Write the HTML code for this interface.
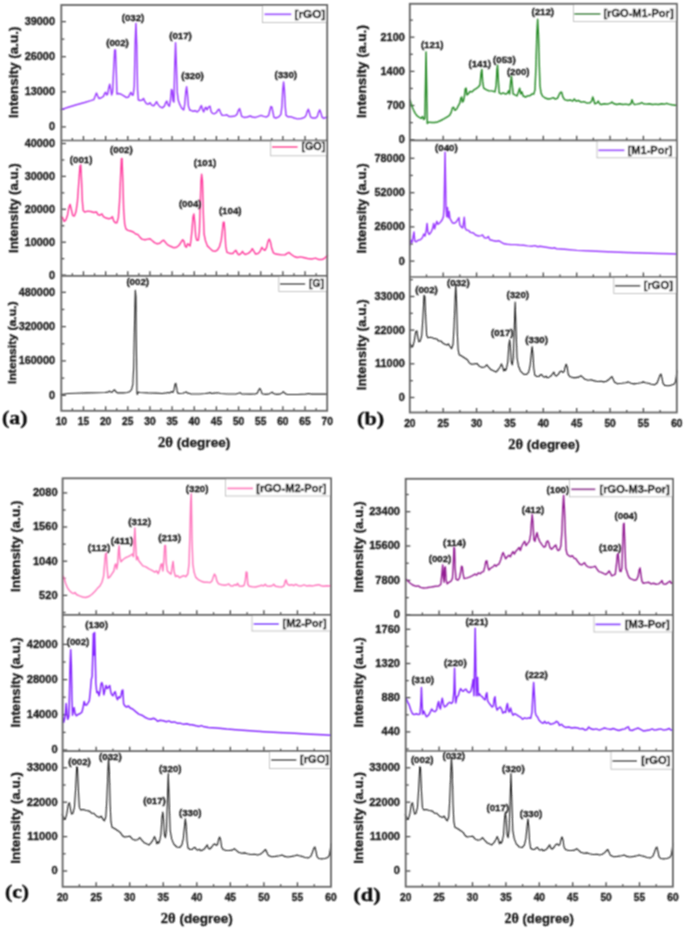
<!DOCTYPE html>
<html><head><meta charset="utf-8"><title>XRD patterns</title>
<style>
html,body{margin:0;padding:0;background:#fff;}
svg{display:block;}

</style></head><body>
<svg width="685" height="929" viewBox="0 0 685 929">
<defs><filter id="soft" x="0" y="0" width="685" height="929" filterUnits="userSpaceOnUse"><feConvolveMatrix order="3" kernelMatrix="1 2 1 2 4 2 1 2 1" edgeMode="duplicate" preserveAlpha="false"/></filter></defs>
<rect x="0" y="0" width="685" height="929" fill="#fff"/>
<g filter="url(#soft)">
<line x1="72.38" y1="140.5" x2="72.38" y2="138" stroke="#3e3e3e" stroke-width="1.25"/>
<line x1="83.46" y1="140.5" x2="83.46" y2="136" stroke="#3e3e3e" stroke-width="1.25"/>
<line x1="94.54" y1="140.5" x2="94.54" y2="138" stroke="#3e3e3e" stroke-width="1.25"/>
<line x1="105.62" y1="140.5" x2="105.62" y2="136" stroke="#3e3e3e" stroke-width="1.25"/>
<line x1="116.7" y1="140.5" x2="116.7" y2="138" stroke="#3e3e3e" stroke-width="1.25"/>
<line x1="127.77" y1="140.5" x2="127.77" y2="136" stroke="#3e3e3e" stroke-width="1.25"/>
<line x1="138.85" y1="140.5" x2="138.85" y2="138" stroke="#3e3e3e" stroke-width="1.25"/>
<line x1="149.93" y1="140.5" x2="149.93" y2="136" stroke="#3e3e3e" stroke-width="1.25"/>
<line x1="161.01" y1="140.5" x2="161.01" y2="138" stroke="#3e3e3e" stroke-width="1.25"/>
<line x1="172.09" y1="140.5" x2="172.09" y2="136" stroke="#3e3e3e" stroke-width="1.25"/>
<line x1="183.17" y1="140.5" x2="183.17" y2="138" stroke="#3e3e3e" stroke-width="1.25"/>
<line x1="194.25" y1="140.5" x2="194.25" y2="136" stroke="#3e3e3e" stroke-width="1.25"/>
<line x1="205.33" y1="140.5" x2="205.33" y2="138" stroke="#3e3e3e" stroke-width="1.25"/>
<line x1="216.41" y1="140.5" x2="216.41" y2="136" stroke="#3e3e3e" stroke-width="1.25"/>
<line x1="227.49" y1="140.5" x2="227.49" y2="138" stroke="#3e3e3e" stroke-width="1.25"/>
<line x1="238.57" y1="140.5" x2="238.57" y2="136" stroke="#3e3e3e" stroke-width="1.25"/>
<line x1="249.65" y1="140.5" x2="249.65" y2="138" stroke="#3e3e3e" stroke-width="1.25"/>
<line x1="260.73" y1="140.5" x2="260.73" y2="136" stroke="#3e3e3e" stroke-width="1.25"/>
<line x1="271.8" y1="140.5" x2="271.8" y2="138" stroke="#3e3e3e" stroke-width="1.25"/>
<line x1="282.88" y1="140.5" x2="282.88" y2="136" stroke="#3e3e3e" stroke-width="1.25"/>
<line x1="293.96" y1="140.5" x2="293.96" y2="138" stroke="#3e3e3e" stroke-width="1.25"/>
<line x1="305.04" y1="140.5" x2="305.04" y2="136" stroke="#3e3e3e" stroke-width="1.25"/>
<line x1="316.12" y1="140.5" x2="316.12" y2="138" stroke="#3e3e3e" stroke-width="1.25"/>
<line x1="61.3" y1="126.9" x2="65.9" y2="126.9" stroke="#3e3e3e" stroke-width="1.25"/>
<text x="55" y="130.3" font-size="10.9" text-anchor="end" fill="#1c1c1c" stroke="#1c1c1c" stroke-width="0.34" font-weight="bold" font-family='"Liberation Sans", Arial, sans-serif' >0</text>
<line x1="61.3" y1="91.8" x2="65.9" y2="91.8" stroke="#3e3e3e" stroke-width="1.25"/>
<text x="55" y="95.2" font-size="10.9" text-anchor="end" fill="#1c1c1c" stroke="#1c1c1c" stroke-width="0.34" font-weight="bold" font-family='"Liberation Sans", Arial, sans-serif' >13000</text>
<line x1="61.3" y1="56.7" x2="65.9" y2="56.7" stroke="#3e3e3e" stroke-width="1.25"/>
<text x="55" y="60.1" font-size="10.9" text-anchor="end" fill="#1c1c1c" stroke="#1c1c1c" stroke-width="0.34" font-weight="bold" font-family='"Liberation Sans", Arial, sans-serif' >26000</text>
<line x1="61.3" y1="21.6" x2="65.9" y2="21.6" stroke="#3e3e3e" stroke-width="1.25"/>
<text x="55" y="25" font-size="10.9" text-anchor="end" fill="#1c1c1c" stroke="#1c1c1c" stroke-width="0.34" font-weight="bold" font-family='"Liberation Sans", Arial, sans-serif' >39000</text>
<line x1="61.3" y1="109.35" x2="64.3" y2="109.35" stroke="#3e3e3e" stroke-width="1.25"/>
<line x1="61.3" y1="74.25" x2="64.3" y2="74.25" stroke="#3e3e3e" stroke-width="1.25"/>
<line x1="61.3" y1="39.15" x2="64.3" y2="39.15" stroke="#3e3e3e" stroke-width="1.25"/>
<polyline points="61.11,109.66 68.26,107.21 76.44,104.76 84.61,102.51 90.74,100.67 93.81,99.65 95.24,95.97 96.47,93.11 97.69,95.97 98.92,98.42 100.96,98.01 103.42,96.38 104.64,93.52 105.66,92.29 106.69,94.95 107.71,93.93 108.73,87.8 109.75,84.12 110.77,89.84 111.59,94.95 112.61,91.88 113.64,69.4 114.66,49.99 115.47,49.99 116.29,71.45 116.91,93.93 118.34,93.52 120.38,93.93 123.45,95.56 126.51,97.61 128.55,96.99 129.99,93.93 131.01,92.29 132.03,94.95 133.26,94.95 134.28,85.75 135.09,44.88 135.91,23.42 136.73,44.88 137.55,89.84 138.36,100.06 140.2,100.47 142.25,100.06 143.47,98.42 144.7,101.08 146.34,103.74 148.38,104.15 150.01,102.72 151.65,105.17 153.69,105.78 155.33,103.74 156.55,101.69 157.78,104.15 159.82,106.6 162.28,107.82 164.32,106.19 165.96,102.1 166.77,101.08 167.8,104.55 169.43,106.19 170.45,100.06 171.47,89.43 172.29,90.86 173.11,101.08 173.93,102.1 174.74,65.31 175.56,42.83 176.38,65.31 177.2,91.88 178.22,100.06 179.65,104.15 181.69,108.23 183.74,109.87 184.76,104.15 185.78,91.88 186.6,86.77 187.42,93.93 188.44,106.19 189.87,110.28 191,110.28 193.04,111.3 195.09,110.69 197.13,111.91 199.18,110.28 200.4,107.21 201.42,105.58 202.45,109.26 203.67,111.91 204.9,108.23 205.92,107.21 206.94,109.87 207.96,108.23 208.99,106.6 210.01,106.19 211.03,111.3 212.46,113.34 214.5,113.75 216.55,112.32 217.98,109.87 219.2,109.26 220.43,112.32 222.07,115.39 224.72,115.39 226.77,114.77 228.81,116.41 231.88,116.41 234.94,116 236.99,114.36 238.42,110.28 239.64,108.64 240.66,112.32 241.69,116.41 244.14,117.43 247.2,117.02 250.27,116 252.31,117.02 255.38,117.43 258.45,116.41 261.1,115.39 263.55,116.41 266.62,117.02 268.66,115.39 269.89,110.28 270.91,106.6 271.93,107.21 272.96,112.32 273.98,117.43 275.82,118.04 278.88,116.82 280.93,114.36 281.95,106.19 282.77,89.84 283.58,82.07 284.4,89.84 285.22,106.19 286.04,115.39 288.08,116.82 291.15,116.82 294.21,118.04 297.28,118.86 301.36,118.45 304.43,117.43 306.07,115.39 307.29,111.3 308.31,109.26 309.34,112.32 310.56,116.82 312.61,118.04 315.67,118.04 317.31,116.41 318.53,112.32 319.76,109.87 320.99,113.34 322.21,117.43 323.85,118.45 325.89,117.43 327.53,117.02" fill="none" stroke="#9a3bff" stroke-width="1.45" stroke-linejoin="round" stroke-linecap="round"/>
<rect x="262.5" y="5" width="64.7" height="17.6" fill="#fff" stroke="#b5b5b5" stroke-width="0.8"/>
<line x1="264.5" y1="14.3" x2="291.3" y2="14.3" stroke="#9a3bff" stroke-width="1.8"/>
<text x="294.6" y="17.7" font-size="11.8" text-anchor="start" fill="#1c1c1c" stroke="#1c1c1c" stroke-width="0.4" font-weight="bold" font-family='"Liberation Sans", Arial, sans-serif' textLength="30.7" lengthAdjust="spacingAndGlyphs" >[rGO]</text>
<text x="117.5" y="45.7" font-size="9.6" text-anchor="middle" fill="#1c1c1c" stroke="#1c1c1c" stroke-width="0.34" font-weight="bold" font-family='"Liberation Sans", Arial, sans-serif' textLength="22.6" lengthAdjust="spacingAndGlyphs" >(002)</text>
<text x="133" y="21.4" font-size="9.6" text-anchor="middle" fill="#1c1c1c" stroke="#1c1c1c" stroke-width="0.34" font-weight="bold" font-family='"Liberation Sans", Arial, sans-serif' textLength="22.6" lengthAdjust="spacingAndGlyphs" >(032)</text>
<text x="180.5" y="38.5" font-size="9.6" text-anchor="middle" fill="#1c1c1c" stroke="#1c1c1c" stroke-width="0.34" font-weight="bold" font-family='"Liberation Sans", Arial, sans-serif' textLength="22.6" lengthAdjust="spacingAndGlyphs" >(017)</text>
<text x="192.5" y="78.7" font-size="9.6" text-anchor="middle" fill="#1c1c1c" stroke="#1c1c1c" stroke-width="0.34" font-weight="bold" font-family='"Liberation Sans", Arial, sans-serif' textLength="22.6" lengthAdjust="spacingAndGlyphs" >(320)</text>
<text x="285.8" y="77.6" font-size="9.6" text-anchor="middle" fill="#1c1c1c" stroke="#1c1c1c" stroke-width="0.34" font-weight="bold" font-family='"Liberation Sans", Arial, sans-serif' textLength="22.6" lengthAdjust="spacingAndGlyphs" >(330)</text>
<text x="18.3" y="72.2" font-size="12.38" text-anchor="middle" fill="#1c1c1c" stroke="#1c1c1c" stroke-width="0.34" font-weight="bold" font-family='"Liberation Sans", Arial, sans-serif' textLength="91.6" lengthAdjust="spacingAndGlyphs" transform="rotate(-90 18.3 72.2)" >Intensity (a.u.)</text>
<line x1="72.38" y1="275.8" x2="72.38" y2="273.3" stroke="#3e3e3e" stroke-width="1.25"/>
<line x1="83.46" y1="275.8" x2="83.46" y2="271.3" stroke="#3e3e3e" stroke-width="1.25"/>
<line x1="94.54" y1="275.8" x2="94.54" y2="273.3" stroke="#3e3e3e" stroke-width="1.25"/>
<line x1="105.62" y1="275.8" x2="105.62" y2="271.3" stroke="#3e3e3e" stroke-width="1.25"/>
<line x1="116.7" y1="275.8" x2="116.7" y2="273.3" stroke="#3e3e3e" stroke-width="1.25"/>
<line x1="127.77" y1="275.8" x2="127.77" y2="271.3" stroke="#3e3e3e" stroke-width="1.25"/>
<line x1="138.85" y1="275.8" x2="138.85" y2="273.3" stroke="#3e3e3e" stroke-width="1.25"/>
<line x1="149.93" y1="275.8" x2="149.93" y2="271.3" stroke="#3e3e3e" stroke-width="1.25"/>
<line x1="161.01" y1="275.8" x2="161.01" y2="273.3" stroke="#3e3e3e" stroke-width="1.25"/>
<line x1="172.09" y1="275.8" x2="172.09" y2="271.3" stroke="#3e3e3e" stroke-width="1.25"/>
<line x1="183.17" y1="275.8" x2="183.17" y2="273.3" stroke="#3e3e3e" stroke-width="1.25"/>
<line x1="194.25" y1="275.8" x2="194.25" y2="271.3" stroke="#3e3e3e" stroke-width="1.25"/>
<line x1="205.33" y1="275.8" x2="205.33" y2="273.3" stroke="#3e3e3e" stroke-width="1.25"/>
<line x1="216.41" y1="275.8" x2="216.41" y2="271.3" stroke="#3e3e3e" stroke-width="1.25"/>
<line x1="227.49" y1="275.8" x2="227.49" y2="273.3" stroke="#3e3e3e" stroke-width="1.25"/>
<line x1="238.57" y1="275.8" x2="238.57" y2="271.3" stroke="#3e3e3e" stroke-width="1.25"/>
<line x1="249.65" y1="275.8" x2="249.65" y2="273.3" stroke="#3e3e3e" stroke-width="1.25"/>
<line x1="260.73" y1="275.8" x2="260.73" y2="271.3" stroke="#3e3e3e" stroke-width="1.25"/>
<line x1="271.8" y1="275.8" x2="271.8" y2="273.3" stroke="#3e3e3e" stroke-width="1.25"/>
<line x1="282.88" y1="275.8" x2="282.88" y2="271.3" stroke="#3e3e3e" stroke-width="1.25"/>
<line x1="293.96" y1="275.8" x2="293.96" y2="273.3" stroke="#3e3e3e" stroke-width="1.25"/>
<line x1="305.04" y1="275.8" x2="305.04" y2="271.3" stroke="#3e3e3e" stroke-width="1.25"/>
<line x1="316.12" y1="275.8" x2="316.12" y2="273.3" stroke="#3e3e3e" stroke-width="1.25"/>
<line x1="61.3" y1="275.1" x2="65.9" y2="275.1" stroke="#3e3e3e" stroke-width="1.25"/>
<text x="55" y="278.5" font-size="10.9" text-anchor="end" fill="#1c1c1c" stroke="#1c1c1c" stroke-width="0.34" font-weight="bold" font-family='"Liberation Sans", Arial, sans-serif' >0</text>
<line x1="61.3" y1="242.2" x2="65.9" y2="242.2" stroke="#3e3e3e" stroke-width="1.25"/>
<text x="55" y="245.6" font-size="10.9" text-anchor="end" fill="#1c1c1c" stroke="#1c1c1c" stroke-width="0.34" font-weight="bold" font-family='"Liberation Sans", Arial, sans-serif' >10000</text>
<line x1="61.3" y1="209.3" x2="65.9" y2="209.3" stroke="#3e3e3e" stroke-width="1.25"/>
<text x="55" y="212.7" font-size="10.9" text-anchor="end" fill="#1c1c1c" stroke="#1c1c1c" stroke-width="0.34" font-weight="bold" font-family='"Liberation Sans", Arial, sans-serif' >20000</text>
<line x1="61.3" y1="176.4" x2="65.9" y2="176.4" stroke="#3e3e3e" stroke-width="1.25"/>
<text x="55" y="179.8" font-size="10.9" text-anchor="end" fill="#1c1c1c" stroke="#1c1c1c" stroke-width="0.34" font-weight="bold" font-family='"Liberation Sans", Arial, sans-serif' >30000</text>
<line x1="61.3" y1="143.5" x2="65.9" y2="143.5" stroke="#3e3e3e" stroke-width="1.25"/>
<text x="55" y="146.9" font-size="10.9" text-anchor="end" fill="#1c1c1c" stroke="#1c1c1c" stroke-width="0.34" font-weight="bold" font-family='"Liberation Sans", Arial, sans-serif' >40000</text>
<line x1="61.3" y1="258.65" x2="64.3" y2="258.65" stroke="#3e3e3e" stroke-width="1.25"/>
<line x1="61.3" y1="225.75" x2="64.3" y2="225.75" stroke="#3e3e3e" stroke-width="1.25"/>
<line x1="61.3" y1="192.85" x2="64.3" y2="192.85" stroke="#3e3e3e" stroke-width="1.25"/>
<line x1="61.3" y1="159.95" x2="64.3" y2="159.95" stroke="#3e3e3e" stroke-width="1.25"/>
<polyline points="61.11,216.64 62.54,217.66 64.18,221.34 65.81,220.12 67.45,215.62 68.88,207.45 70.1,204.38 71.33,209.49 72.76,215.62 74.39,216.03 76.03,211.53 77.46,201.31 78.89,180.88 79.91,166.57 80.73,164.93 81.55,180.88 82.36,201.31 83.18,210.51 84.61,211.94 87.68,211.12 90.74,211.53 93.81,212.55 96.47,211.94 97.9,214.6 99.94,215.21 101.99,213.99 103.42,216.64 106.07,218.07 108.73,218.69 110.77,218.28 112.41,216.64 113.64,220.73 115.27,222.77 116.91,222.77 118.34,217.66 119.56,201.31 120.58,176.79 121.4,158.8 122.01,158.39 122.83,180.88 123.65,209.49 124.67,223.8 125.9,228.91 127.94,230.34 130.6,230.95 133.26,231.97 135.71,234.01 137.75,234.42 139.8,237.08 141.84,239.12 144.91,239.74 147.97,239.12 150.01,238.72 152.06,240.55 154.51,242.6 157.17,243.82 159.82,243.21 161.87,241.17 163.71,240.15 165.34,242.19 167.39,244.64 170.45,246.28 173.52,247.71 176.58,247.3 179.04,245.26 181.08,242.19 182.72,239.74 183.94,241.17 185.17,246.28 186.39,247.3 187.62,243.82 188.85,244.64 190.07,245.87 191,240.15 192.02,229.93 193.04,216.64 193.86,213.99 194.68,221.75 195.7,236.06 196.72,240.15 198.36,240.15 199.38,231.97 200.2,205.4 201.01,180.88 201.63,174.34 202.45,180.88 203.26,211.53 204.08,234.01 205.31,240.15 207.35,245.87 209.8,248.32 212.46,250.77 215.12,251.39 217.57,249.96 219.61,246.28 221.25,240.15 222.47,229.93 223.29,222.16 224.11,222.16 224.93,231.97 225.74,246.28 226.97,252.41 229.83,253.43 232.9,253.43 234.53,251.39 235.96,250.36 237.39,253.43 239.03,254.86 241.07,253.43 242.5,251.39 243.73,253.43 245.16,254.45 248.23,253.43 250.68,251.39 252.31,248.73 253.95,251.39 255.58,254.04 258.04,253.43 260.08,251.39 261.92,247.3 263.35,249.34 264.99,250.36 266.62,247.3 268.05,241.17 269.28,239.12 270.5,242.19 271.73,248.32 273.36,252.82 275.82,254.04 278.88,254.45 281.95,254.86 285.01,254.86 287.06,253.43 289.1,252.41 291.15,254.45 294.21,256.5 297.28,257.52 300.34,256.91 303.41,257.52 307.5,258.54 311.58,258.95 315.67,258.13 318.74,259.56 321.8,259.56 324.26,258.54 325.89,256.91 327.53,255.47" fill="none" stroke="#ff3d9e" stroke-width="1.45" stroke-linejoin="round" stroke-linecap="round"/>
<rect x="270.7" y="140.5" width="56.5" height="15.3" fill="#fff" stroke="#b5b5b5" stroke-width="0.8"/>
<line x1="272" y1="147" x2="297.6" y2="147" stroke="#ff3d9e" stroke-width="1.8"/>
<text x="301.4" y="150.4" font-size="11.8" text-anchor="start" fill="#1c1c1c" stroke="#1c1c1c" stroke-width="0.4" font-weight="bold" font-family='"Liberation Sans", Arial, sans-serif' textLength="23.9" lengthAdjust="spacingAndGlyphs" >[GO]</text>
<text x="81.1" y="163.1" font-size="9.6" text-anchor="middle" fill="#1c1c1c" stroke="#1c1c1c" stroke-width="0.34" font-weight="bold" font-family='"Liberation Sans", Arial, sans-serif' textLength="22.6" lengthAdjust="spacingAndGlyphs" >(001)</text>
<text x="121.4" y="152.9" font-size="9.6" text-anchor="middle" fill="#1c1c1c" stroke="#1c1c1c" stroke-width="0.34" font-weight="bold" font-family='"Liberation Sans", Arial, sans-serif' textLength="22.6" lengthAdjust="spacingAndGlyphs" >(002)</text>
<text x="190.2" y="207.1" font-size="9.6" text-anchor="middle" fill="#1c1c1c" stroke="#1c1c1c" stroke-width="0.34" font-weight="bold" font-family='"Liberation Sans", Arial, sans-serif' textLength="22.6" lengthAdjust="spacingAndGlyphs" >(004)</text>
<text x="205" y="165.6" font-size="9.6" text-anchor="middle" fill="#1c1c1c" stroke="#1c1c1c" stroke-width="0.34" font-weight="bold" font-family='"Liberation Sans", Arial, sans-serif' textLength="22.6" lengthAdjust="spacingAndGlyphs" >(101)</text>
<text x="230.2" y="214.2" font-size="9.6" text-anchor="middle" fill="#1c1c1c" stroke="#1c1c1c" stroke-width="0.34" font-weight="bold" font-family='"Liberation Sans", Arial, sans-serif' textLength="22.6" lengthAdjust="spacingAndGlyphs" >(104)</text>
<text x="18.3" y="208.15" font-size="12.12" text-anchor="middle" fill="#1c1c1c" stroke="#1c1c1c" stroke-width="0.34" font-weight="bold" font-family='"Liberation Sans", Arial, sans-serif' textLength="89.7" lengthAdjust="spacingAndGlyphs" transform="rotate(-90 18.3 208.15)" >Intensity (a.u.)</text>
<line x1="72.38" y1="410.8" x2="72.38" y2="408.3" stroke="#3e3e3e" stroke-width="1.25"/>
<line x1="83.46" y1="410.8" x2="83.46" y2="406.3" stroke="#3e3e3e" stroke-width="1.25"/>
<line x1="94.54" y1="410.8" x2="94.54" y2="408.3" stroke="#3e3e3e" stroke-width="1.25"/>
<line x1="105.62" y1="410.8" x2="105.62" y2="406.3" stroke="#3e3e3e" stroke-width="1.25"/>
<line x1="116.7" y1="410.8" x2="116.7" y2="408.3" stroke="#3e3e3e" stroke-width="1.25"/>
<line x1="127.77" y1="410.8" x2="127.77" y2="406.3" stroke="#3e3e3e" stroke-width="1.25"/>
<line x1="138.85" y1="410.8" x2="138.85" y2="408.3" stroke="#3e3e3e" stroke-width="1.25"/>
<line x1="149.93" y1="410.8" x2="149.93" y2="406.3" stroke="#3e3e3e" stroke-width="1.25"/>
<line x1="161.01" y1="410.8" x2="161.01" y2="408.3" stroke="#3e3e3e" stroke-width="1.25"/>
<line x1="172.09" y1="410.8" x2="172.09" y2="406.3" stroke="#3e3e3e" stroke-width="1.25"/>
<line x1="183.17" y1="410.8" x2="183.17" y2="408.3" stroke="#3e3e3e" stroke-width="1.25"/>
<line x1="194.25" y1="410.8" x2="194.25" y2="406.3" stroke="#3e3e3e" stroke-width="1.25"/>
<line x1="205.33" y1="410.8" x2="205.33" y2="408.3" stroke="#3e3e3e" stroke-width="1.25"/>
<line x1="216.41" y1="410.8" x2="216.41" y2="406.3" stroke="#3e3e3e" stroke-width="1.25"/>
<line x1="227.49" y1="410.8" x2="227.49" y2="408.3" stroke="#3e3e3e" stroke-width="1.25"/>
<line x1="238.57" y1="410.8" x2="238.57" y2="406.3" stroke="#3e3e3e" stroke-width="1.25"/>
<line x1="249.65" y1="410.8" x2="249.65" y2="408.3" stroke="#3e3e3e" stroke-width="1.25"/>
<line x1="260.73" y1="410.8" x2="260.73" y2="406.3" stroke="#3e3e3e" stroke-width="1.25"/>
<line x1="271.8" y1="410.8" x2="271.8" y2="408.3" stroke="#3e3e3e" stroke-width="1.25"/>
<line x1="282.88" y1="410.8" x2="282.88" y2="406.3" stroke="#3e3e3e" stroke-width="1.25"/>
<line x1="293.96" y1="410.8" x2="293.96" y2="408.3" stroke="#3e3e3e" stroke-width="1.25"/>
<line x1="305.04" y1="410.8" x2="305.04" y2="406.3" stroke="#3e3e3e" stroke-width="1.25"/>
<line x1="316.12" y1="410.8" x2="316.12" y2="408.3" stroke="#3e3e3e" stroke-width="1.25"/>
<line x1="61.3" y1="395.3" x2="65.9" y2="395.3" stroke="#3e3e3e" stroke-width="1.25"/>
<text x="55" y="398.7" font-size="10.9" text-anchor="end" fill="#1c1c1c" stroke="#1c1c1c" stroke-width="0.34" font-weight="bold" font-family='"Liberation Sans", Arial, sans-serif' >0</text>
<line x1="61.3" y1="360.9" x2="65.9" y2="360.9" stroke="#3e3e3e" stroke-width="1.25"/>
<text x="55" y="364.3" font-size="10.9" text-anchor="end" fill="#1c1c1c" stroke="#1c1c1c" stroke-width="0.34" font-weight="bold" font-family='"Liberation Sans", Arial, sans-serif' >160000</text>
<line x1="61.3" y1="326.6" x2="65.9" y2="326.6" stroke="#3e3e3e" stroke-width="1.25"/>
<text x="55" y="330" font-size="10.9" text-anchor="end" fill="#1c1c1c" stroke="#1c1c1c" stroke-width="0.34" font-weight="bold" font-family='"Liberation Sans", Arial, sans-serif' >320000</text>
<line x1="61.3" y1="292.3" x2="65.9" y2="292.3" stroke="#3e3e3e" stroke-width="1.25"/>
<text x="55" y="295.7" font-size="10.9" text-anchor="end" fill="#1c1c1c" stroke="#1c1c1c" stroke-width="0.34" font-weight="bold" font-family='"Liberation Sans", Arial, sans-serif' >480000</text>
<line x1="61.3" y1="378.13" x2="64.3" y2="378.13" stroke="#3e3e3e" stroke-width="1.25"/>
<line x1="61.3" y1="343.8" x2="64.3" y2="343.8" stroke="#3e3e3e" stroke-width="1.25"/>
<line x1="61.3" y1="309.47" x2="64.3" y2="309.47" stroke="#3e3e3e" stroke-width="1.25"/>
<polyline points="61.11,394.54 64.18,393.93 68.26,393.52 76.44,393.31 86.66,392.91 96.88,392.7 105.05,392.5 108.12,392.09 109.55,391.07 110.77,392.09 112.2,392.09 113.64,390.45 114.66,389.84 115.68,391.47 117.31,392.91 123.45,392.91 127.53,392.5 129.99,391.47 131.62,389.43 132.85,384.32 133.66,367.97 134.48,327.09 135.3,290.31 135.91,296.44 136.53,357.75 136.93,392.5 137.34,394.54 138.16,392.09 139.8,392.5 147.97,392.91 156.15,393.11 162.28,393.52 166.36,392.91 168.41,392.5 170.04,392.91 171.47,391.47 172.91,392.5 174.13,389.43 174.95,384.32 175.77,383.3 176.58,387.39 177.4,392.5 178.63,393.52 182.72,393.31 184.76,392.5 186.19,391.88 187.62,393.11 189.87,393.52 191,393.93 199.18,393.93 205.31,393.52 208.37,393.11 210.01,392.5 211.44,393.52 214.5,393.11 217.57,392.7 220.64,393.52 227.79,393.93 235.96,393.93 238.42,393.31 240.05,392.7 241.69,393.93 250.27,394.13 255.38,393.93 257.42,392.91 258.65,390.04 259.88,388.41 261.1,390.86 262.12,393.72 264.58,394.34 268.66,394.13 270.71,393.11 272.14,392.09 273.57,393.52 275.82,394.34 279.91,394.13 281.95,392.91 283.38,391.68 284.81,393.31 286.65,394.34 297.28,394.54 305.45,394.13 308.52,393.52 311.58,394.13 319.76,394.13 327.53,394.13" fill="none" stroke="#222" stroke-width="1.1" stroke-linejoin="round" stroke-linecap="round"/>
<rect x="278.8" y="275.8" width="48.4" height="15.7" fill="#fff" stroke="#b5b5b5" stroke-width="0.8"/>
<line x1="280" y1="284" x2="305.2" y2="284" stroke="#505050" stroke-width="1.8"/>
<text x="309" y="287.4" font-size="11.8" text-anchor="start" fill="#1c1c1c" stroke="#1c1c1c" stroke-width="0.4" font-weight="bold" font-family='"Liberation Sans", Arial, sans-serif' textLength="15" lengthAdjust="spacingAndGlyphs" >[G]</text>
<text x="137.7" y="285.2" font-size="9.6" text-anchor="middle" fill="#1c1c1c" stroke="#1c1c1c" stroke-width="0.34" font-weight="bold" font-family='"Liberation Sans", Arial, sans-serif' textLength="22.6" lengthAdjust="spacingAndGlyphs" >(002)</text>
<text x="16.3" y="342.75" font-size="11.15" text-anchor="middle" fill="#1c1c1c" stroke="#1c1c1c" stroke-width="0.34" font-weight="bold" font-family='"Liberation Sans", Arial, sans-serif' textLength="82.5" lengthAdjust="spacingAndGlyphs" transform="rotate(-90 16.3 342.75)" >Intensity (a.u.)</text>
<rect x="61.3" y="5" width="265.9" height="405.8" fill="none" stroke="#646464" stroke-width="1.8"/>
<line x1="61.3" y1="140.5" x2="327.2" y2="140.5" stroke="#646464" stroke-width="1.7"/>
<line x1="61.3" y1="275.8" x2="327.2" y2="275.8" stroke="#646464" stroke-width="1.7"/>
<text x="61.3" y="424.5" font-size="10.2" text-anchor="middle" fill="#1c1c1c" stroke="#1c1c1c" stroke-width="0.34" font-weight="bold" font-family='"Liberation Sans", Arial, sans-serif' >10</text>
<text x="83.46" y="424.5" font-size="10.2" text-anchor="middle" fill="#1c1c1c" stroke="#1c1c1c" stroke-width="0.34" font-weight="bold" font-family='"Liberation Sans", Arial, sans-serif' >15</text>
<text x="105.62" y="424.5" font-size="10.2" text-anchor="middle" fill="#1c1c1c" stroke="#1c1c1c" stroke-width="0.34" font-weight="bold" font-family='"Liberation Sans", Arial, sans-serif' >20</text>
<text x="127.77" y="424.5" font-size="10.2" text-anchor="middle" fill="#1c1c1c" stroke="#1c1c1c" stroke-width="0.34" font-weight="bold" font-family='"Liberation Sans", Arial, sans-serif' >25</text>
<text x="149.93" y="424.5" font-size="10.2" text-anchor="middle" fill="#1c1c1c" stroke="#1c1c1c" stroke-width="0.34" font-weight="bold" font-family='"Liberation Sans", Arial, sans-serif' >30</text>
<text x="172.09" y="424.5" font-size="10.2" text-anchor="middle" fill="#1c1c1c" stroke="#1c1c1c" stroke-width="0.34" font-weight="bold" font-family='"Liberation Sans", Arial, sans-serif' >35</text>
<text x="194.25" y="424.5" font-size="10.2" text-anchor="middle" fill="#1c1c1c" stroke="#1c1c1c" stroke-width="0.34" font-weight="bold" font-family='"Liberation Sans", Arial, sans-serif' >40</text>
<text x="216.41" y="424.5" font-size="10.2" text-anchor="middle" fill="#1c1c1c" stroke="#1c1c1c" stroke-width="0.34" font-weight="bold" font-family='"Liberation Sans", Arial, sans-serif' >45</text>
<text x="238.57" y="424.5" font-size="10.2" text-anchor="middle" fill="#1c1c1c" stroke="#1c1c1c" stroke-width="0.34" font-weight="bold" font-family='"Liberation Sans", Arial, sans-serif' >50</text>
<text x="260.73" y="424.5" font-size="10.2" text-anchor="middle" fill="#1c1c1c" stroke="#1c1c1c" stroke-width="0.34" font-weight="bold" font-family='"Liberation Sans", Arial, sans-serif' >55</text>
<text x="282.88" y="424.5" font-size="10.2" text-anchor="middle" fill="#1c1c1c" stroke="#1c1c1c" stroke-width="0.34" font-weight="bold" font-family='"Liberation Sans", Arial, sans-serif' >60</text>
<text x="305.04" y="424.5" font-size="10.2" text-anchor="middle" fill="#1c1c1c" stroke="#1c1c1c" stroke-width="0.34" font-weight="bold" font-family='"Liberation Sans", Arial, sans-serif' >65</text>
<text x="327.2" y="424.5" font-size="10.2" text-anchor="middle" fill="#1c1c1c" stroke="#1c1c1c" stroke-width="0.34" font-weight="bold" font-family='"Liberation Sans", Arial, sans-serif' >70</text>
<text x="158" y="446.9" font-size="13" text-anchor="start" fill="#1c1c1c" stroke="#1c1c1c" stroke-width="0.34" font-weight="bold" font-family='"Liberation Sans", Arial, sans-serif' textLength="72.3" lengthAdjust="spacingAndGlyphs" ><tspan font-family='"Liberation Serif", "DejaVu Serif", serif' font-size="14">2θ</tspan> (degree)</text>
<text x="2" y="424.4" font-size="18" text-anchor="start" fill="#111" stroke="#111" stroke-width="0.34" font-weight="bold" font-family='"Liberation Serif", "DejaVu Serif", serif' textLength="25.4" lengthAdjust="spacingAndGlyphs" >(a)</text>
<line x1="426.49" y1="140.3" x2="426.49" y2="137.8" stroke="#3e3e3e" stroke-width="1.25"/>
<line x1="443.18" y1="140.3" x2="443.18" y2="135.8" stroke="#3e3e3e" stroke-width="1.25"/>
<line x1="459.86" y1="140.3" x2="459.86" y2="137.8" stroke="#3e3e3e" stroke-width="1.25"/>
<line x1="476.55" y1="140.3" x2="476.55" y2="135.8" stroke="#3e3e3e" stroke-width="1.25"/>
<line x1="493.24" y1="140.3" x2="493.24" y2="137.8" stroke="#3e3e3e" stroke-width="1.25"/>
<line x1="509.93" y1="140.3" x2="509.93" y2="135.8" stroke="#3e3e3e" stroke-width="1.25"/>
<line x1="526.61" y1="140.3" x2="526.61" y2="137.8" stroke="#3e3e3e" stroke-width="1.25"/>
<line x1="543.3" y1="140.3" x2="543.3" y2="135.8" stroke="#3e3e3e" stroke-width="1.25"/>
<line x1="559.99" y1="140.3" x2="559.99" y2="137.8" stroke="#3e3e3e" stroke-width="1.25"/>
<line x1="576.67" y1="140.3" x2="576.67" y2="135.8" stroke="#3e3e3e" stroke-width="1.25"/>
<line x1="593.36" y1="140.3" x2="593.36" y2="137.8" stroke="#3e3e3e" stroke-width="1.25"/>
<line x1="610.05" y1="140.3" x2="610.05" y2="135.8" stroke="#3e3e3e" stroke-width="1.25"/>
<line x1="626.74" y1="140.3" x2="626.74" y2="137.8" stroke="#3e3e3e" stroke-width="1.25"/>
<line x1="643.42" y1="140.3" x2="643.42" y2="135.8" stroke="#3e3e3e" stroke-width="1.25"/>
<line x1="660.11" y1="140.3" x2="660.11" y2="137.8" stroke="#3e3e3e" stroke-width="1.25"/>
<line x1="409.8" y1="139.7" x2="414.4" y2="139.7" stroke="#3e3e3e" stroke-width="1.25"/>
<text x="404.8" y="143.1" font-size="10.9" text-anchor="end" fill="#1c1c1c" stroke="#1c1c1c" stroke-width="0.34" font-weight="bold" font-family='"Liberation Sans", Arial, sans-serif' >0</text>
<line x1="409.8" y1="105.5" x2="414.4" y2="105.5" stroke="#3e3e3e" stroke-width="1.25"/>
<text x="404.8" y="108.9" font-size="10.9" text-anchor="end" fill="#1c1c1c" stroke="#1c1c1c" stroke-width="0.34" font-weight="bold" font-family='"Liberation Sans", Arial, sans-serif' >700</text>
<line x1="409.8" y1="71.4" x2="414.4" y2="71.4" stroke="#3e3e3e" stroke-width="1.25"/>
<text x="404.8" y="74.8" font-size="10.9" text-anchor="end" fill="#1c1c1c" stroke="#1c1c1c" stroke-width="0.34" font-weight="bold" font-family='"Liberation Sans", Arial, sans-serif' >1400</text>
<line x1="409.8" y1="37.2" x2="414.4" y2="37.2" stroke="#3e3e3e" stroke-width="1.25"/>
<text x="404.8" y="40.6" font-size="10.9" text-anchor="end" fill="#1c1c1c" stroke="#1c1c1c" stroke-width="0.34" font-weight="bold" font-family='"Liberation Sans", Arial, sans-serif' >2100</text>
<line x1="409.8" y1="122.62" x2="412.8" y2="122.62" stroke="#3e3e3e" stroke-width="1.25"/>
<line x1="409.8" y1="88.45" x2="412.8" y2="88.45" stroke="#3e3e3e" stroke-width="1.25"/>
<line x1="409.8" y1="54.28" x2="412.8" y2="54.28" stroke="#3e3e3e" stroke-width="1.25"/>
<line x1="409.8" y1="20.12" x2="412.8" y2="20.12" stroke="#3e3e3e" stroke-width="1.25"/>
<polyline points="410.11,100.06 411.54,105.17 413.18,109.26 415.22,113.34 417.26,116 419.31,117.43 421.35,118.45 422.58,116.41 423.8,119.47 424.82,118.45 425.44,85.75 426.05,52.03 426.66,85.75 427.28,123.56 428.5,122.13 431.57,122.54 434.64,122.54 437.7,121.93 440.77,120.5 443.83,118.86 446.9,117.02 449.55,115.39 451.19,112.32 452.42,107.82 453.64,107.21 454.87,110.28 456.5,109.26 458.14,106.19 459.77,103.12 460.8,98.42 461.61,96.99 462.43,102.1 463.45,101.08 464.47,95.97 465.29,88.82 466.11,88.2 466.93,94.95 468.36,93.93 469.99,91.47 472.04,91.88 474.08,89.84 476.53,88.41 478.58,86.77 480.01,84.73 481.03,73.49 481.85,69.4 482.66,81.66 483.69,88.2 485.73,89.43 488.8,90.86 491.86,90.86 494.93,91.88 496.15,85.75 496.97,69.4 497.58,65.31 498.4,81.66 499.22,92.91 501.06,93.93 503.1,92.91 505.15,93.93 507.19,93.52 508.62,90.86 509.64,93.93 510.66,81.66 511.48,76.55 512.3,85.75 513.12,93.93 514.96,94.95 517,95.97 518.43,91.88 519.66,88.2 520.68,93.93 521.91,91.88 523.13,95.97 525.58,96.99 527.63,95.97 530.08,95.56 532.12,93.93 533.76,93.93 534.99,89.84 536.01,65.31 536.82,34.66 537.64,19.33 538.46,34.66 539.28,65.31 540,85.75 541.02,92.91 542.45,95.97 545.11,98.01 548.18,99.04 551.24,98.42 553.28,97.61 555.33,99.04 557.37,98.42 559.01,94.95 560.44,92.29 561.66,92.29 562.89,96.99 564.53,99.65 567.59,100.47 570.66,100.06 572.7,101.08 574.34,99.04 575.97,101.08 578.83,100.47 580.88,102.1 583.94,101.69 587.01,103.12 590.07,102.72 591.71,101.08 592.73,96.99 593.75,100.06 594.77,103.74 596.82,103.12 598.25,101.08 599.68,103.74 601.31,104.55 604.38,103.74 607.45,104.15 610.51,103.12 611.94,102.1 613.58,103.53 616.64,104.55 619.71,103.74 622.77,104.55 625.84,104.15 628.91,104.76 630.95,103.74 631.97,99.65 633.2,103.12 634.42,104.55 637.08,104.15 640.15,103.53 641.78,102.51 643.42,103.74 646.28,104.15 649.34,103.74 652.41,104.55 655.47,104.15 658.54,104.55 661.61,103.74 664.67,104.15 666.72,103.33 668.76,104.15 671.82,104.76 674.89,105.17 676.53,105.17" fill="none" stroke="#258a25" stroke-width="1.45" stroke-linejoin="round" stroke-linecap="round"/>
<rect x="573.4" y="3.8" width="103.4" height="17.7" fill="#fff" stroke="#b5b5b5" stroke-width="0.8"/>
<line x1="574.5" y1="13.9" x2="600.4" y2="13.9" stroke="#258a25" stroke-width="1.8"/>
<text x="603.4" y="17.3" font-size="11.8" text-anchor="start" fill="#1c1c1c" stroke="#1c1c1c" stroke-width="0.4" font-weight="bold" font-family='"Liberation Sans", Arial, sans-serif' textLength="70.2" lengthAdjust="spacingAndGlyphs" >[rGO-M1-Por]</text>
<text x="432.2" y="47.5" font-size="9.6" text-anchor="middle" fill="#1c1c1c" stroke="#1c1c1c" stroke-width="0.34" font-weight="bold" font-family='"Liberation Sans", Arial, sans-serif' textLength="22.6" lengthAdjust="spacingAndGlyphs" >(121)</text>
<text x="479.8" y="67.4" font-size="9.6" text-anchor="middle" fill="#1c1c1c" stroke="#1c1c1c" stroke-width="0.34" font-weight="bold" font-family='"Liberation Sans", Arial, sans-serif' textLength="22.6" lengthAdjust="spacingAndGlyphs" >(141)</text>
<text x="504.4" y="62.9" font-size="9.6" text-anchor="middle" fill="#1c1c1c" stroke="#1c1c1c" stroke-width="0.34" font-weight="bold" font-family='"Liberation Sans", Arial, sans-serif' textLength="22.6" lengthAdjust="spacingAndGlyphs" >(053)</text>
<text x="518.2" y="74.7" font-size="9.6" text-anchor="middle" fill="#1c1c1c" stroke="#1c1c1c" stroke-width="0.34" font-weight="bold" font-family='"Liberation Sans", Arial, sans-serif' textLength="22.6" lengthAdjust="spacingAndGlyphs" >(200)</text>
<text x="542.8" y="14.6" font-size="9.6" text-anchor="middle" fill="#1c1c1c" stroke="#1c1c1c" stroke-width="0.34" font-weight="bold" font-family='"Liberation Sans", Arial, sans-serif' textLength="22.6" lengthAdjust="spacingAndGlyphs" >(212)</text>
<text x="366.1" y="71.5" font-size="12.57" text-anchor="middle" fill="#1c1c1c" stroke="#1c1c1c" stroke-width="0.34" font-weight="bold" font-family='"Liberation Sans", Arial, sans-serif' textLength="93" lengthAdjust="spacingAndGlyphs" transform="rotate(-90 366.1 71.5)" >Intensity (a.u.)</text>
<line x1="426.49" y1="277" x2="426.49" y2="274.5" stroke="#3e3e3e" stroke-width="1.25"/>
<line x1="443.18" y1="277" x2="443.18" y2="272.5" stroke="#3e3e3e" stroke-width="1.25"/>
<line x1="459.86" y1="277" x2="459.86" y2="274.5" stroke="#3e3e3e" stroke-width="1.25"/>
<line x1="476.55" y1="277" x2="476.55" y2="272.5" stroke="#3e3e3e" stroke-width="1.25"/>
<line x1="493.24" y1="277" x2="493.24" y2="274.5" stroke="#3e3e3e" stroke-width="1.25"/>
<line x1="509.93" y1="277" x2="509.93" y2="272.5" stroke="#3e3e3e" stroke-width="1.25"/>
<line x1="526.61" y1="277" x2="526.61" y2="274.5" stroke="#3e3e3e" stroke-width="1.25"/>
<line x1="543.3" y1="277" x2="543.3" y2="272.5" stroke="#3e3e3e" stroke-width="1.25"/>
<line x1="559.99" y1="277" x2="559.99" y2="274.5" stroke="#3e3e3e" stroke-width="1.25"/>
<line x1="576.67" y1="277" x2="576.67" y2="272.5" stroke="#3e3e3e" stroke-width="1.25"/>
<line x1="593.36" y1="277" x2="593.36" y2="274.5" stroke="#3e3e3e" stroke-width="1.25"/>
<line x1="610.05" y1="277" x2="610.05" y2="272.5" stroke="#3e3e3e" stroke-width="1.25"/>
<line x1="626.74" y1="277" x2="626.74" y2="274.5" stroke="#3e3e3e" stroke-width="1.25"/>
<line x1="643.42" y1="277" x2="643.42" y2="272.5" stroke="#3e3e3e" stroke-width="1.25"/>
<line x1="660.11" y1="277" x2="660.11" y2="274.5" stroke="#3e3e3e" stroke-width="1.25"/>
<line x1="409.8" y1="261.1" x2="414.4" y2="261.1" stroke="#3e3e3e" stroke-width="1.25"/>
<text x="404.8" y="264.5" font-size="10.9" text-anchor="end" fill="#1c1c1c" stroke="#1c1c1c" stroke-width="0.34" font-weight="bold" font-family='"Liberation Sans", Arial, sans-serif' >0</text>
<line x1="409.8" y1="226.9" x2="414.4" y2="226.9" stroke="#3e3e3e" stroke-width="1.25"/>
<text x="404.8" y="230.3" font-size="10.9" text-anchor="end" fill="#1c1c1c" stroke="#1c1c1c" stroke-width="0.34" font-weight="bold" font-family='"Liberation Sans", Arial, sans-serif' >26000</text>
<line x1="409.8" y1="192.7" x2="414.4" y2="192.7" stroke="#3e3e3e" stroke-width="1.25"/>
<text x="404.8" y="196.1" font-size="10.9" text-anchor="end" fill="#1c1c1c" stroke="#1c1c1c" stroke-width="0.34" font-weight="bold" font-family='"Liberation Sans", Arial, sans-serif' >52000</text>
<line x1="409.8" y1="158.3" x2="414.4" y2="158.3" stroke="#3e3e3e" stroke-width="1.25"/>
<text x="404.8" y="161.7" font-size="10.9" text-anchor="end" fill="#1c1c1c" stroke="#1c1c1c" stroke-width="0.34" font-weight="bold" font-family='"Liberation Sans", Arial, sans-serif' >78000</text>
<line x1="409.8" y1="243.97" x2="412.8" y2="243.97" stroke="#3e3e3e" stroke-width="1.25"/>
<line x1="409.8" y1="209.7" x2="412.8" y2="209.7" stroke="#3e3e3e" stroke-width="1.25"/>
<line x1="409.8" y1="175.43" x2="412.8" y2="175.43" stroke="#3e3e3e" stroke-width="1.25"/>
<polyline points="410.11,244.64 411.13,240.15 412.15,242.19 413.18,236.06 413.99,231.97 414.81,241.17 416.24,241.78 418.28,240.15 420.33,239.74 422.37,237.69 423.8,234.01 425.03,236.06 426.26,229.93 427.07,223.39 427.89,231.97 429.12,234.42 431.16,231.97 432.8,227.88 433.61,223.39 434.64,228.91 435.66,224.82 436.88,221.34 437.91,224.2 439.34,223.39 440.77,221.75 442.2,219.71 443.42,216.64 444.04,207.45 444.55,180.88 445.06,152.26 445.57,180.88 446.08,207.45 446.69,216.64 447.51,207.45 448.33,217.66 449.15,211.53 449.96,218.69 451.19,220.73 452.42,222.77 454.05,223.39 456.09,222.16 457.73,219.71 458.96,217.66 459.77,224.82 461.2,226.86 462.64,227.88 463.66,221.75 464.27,217.26 465.09,227.88 466.31,229.93 468.36,230.34 470.4,232.38 473.47,232.99 475.51,235.04 478.58,236.06 481.03,235.65 482.66,235.04 484.3,237.69 486.75,238.1 488.39,236.47 489.82,239.74 492.88,240.55 495.95,241.17 499.01,240.76 501.06,242.19 504.12,243.82 507.19,244.23 511.28,244.64 515.36,244.64 519.45,245.05 523.54,245.26 527.63,245.87 531.72,246.28 534.78,245.66 537.85,246.69 540,246.28 546.13,247.3 552.26,248.32 554.31,247.71 556.35,248.73 564.53,249.34 576.79,250.36 591.09,250.98 607.45,251.8 625.84,252.41 642.19,253.02 658.54,253.43 670.8,253.84 676.53,254.04" fill="none" stroke="#9a3bff" stroke-width="1.45" stroke-linejoin="round" stroke-linecap="round"/>
<rect x="597" y="140.3" width="79.8" height="17.5" fill="#fff" stroke="#b5b5b5" stroke-width="0.8"/>
<line x1="598.5" y1="150.3" x2="624.4" y2="150.3" stroke="#9a3bff" stroke-width="1.8"/>
<text x="627.7" y="153.7" font-size="11.8" text-anchor="start" fill="#1c1c1c" stroke="#1c1c1c" stroke-width="0.4" font-weight="bold" font-family='"Liberation Sans", Arial, sans-serif' textLength="44.7" lengthAdjust="spacingAndGlyphs" >[M1-Por]</text>
<text x="446.4" y="150.6" font-size="9.6" text-anchor="middle" fill="#1c1c1c" stroke="#1c1c1c" stroke-width="0.34" font-weight="bold" font-family='"Liberation Sans", Arial, sans-serif' textLength="22.6" lengthAdjust="spacingAndGlyphs" >(040)</text>
<text x="366.1" y="208.35" font-size="12.18" text-anchor="middle" fill="#1c1c1c" stroke="#1c1c1c" stroke-width="0.34" font-weight="bold" font-family='"Liberation Sans", Arial, sans-serif' textLength="90.1" lengthAdjust="spacingAndGlyphs" transform="rotate(-90 366.1 208.35)" >Intensity (a.u.)</text>
<line x1="426.49" y1="412.5" x2="426.49" y2="410" stroke="#3e3e3e" stroke-width="1.25"/>
<line x1="443.18" y1="412.5" x2="443.18" y2="408" stroke="#3e3e3e" stroke-width="1.25"/>
<line x1="459.86" y1="412.5" x2="459.86" y2="410" stroke="#3e3e3e" stroke-width="1.25"/>
<line x1="476.55" y1="412.5" x2="476.55" y2="408" stroke="#3e3e3e" stroke-width="1.25"/>
<line x1="493.24" y1="412.5" x2="493.24" y2="410" stroke="#3e3e3e" stroke-width="1.25"/>
<line x1="509.93" y1="412.5" x2="509.93" y2="408" stroke="#3e3e3e" stroke-width="1.25"/>
<line x1="526.61" y1="412.5" x2="526.61" y2="410" stroke="#3e3e3e" stroke-width="1.25"/>
<line x1="543.3" y1="412.5" x2="543.3" y2="408" stroke="#3e3e3e" stroke-width="1.25"/>
<line x1="559.99" y1="412.5" x2="559.99" y2="410" stroke="#3e3e3e" stroke-width="1.25"/>
<line x1="576.67" y1="412.5" x2="576.67" y2="408" stroke="#3e3e3e" stroke-width="1.25"/>
<line x1="593.36" y1="412.5" x2="593.36" y2="410" stroke="#3e3e3e" stroke-width="1.25"/>
<line x1="610.05" y1="412.5" x2="610.05" y2="408" stroke="#3e3e3e" stroke-width="1.25"/>
<line x1="626.74" y1="412.5" x2="626.74" y2="410" stroke="#3e3e3e" stroke-width="1.25"/>
<line x1="643.42" y1="412.5" x2="643.42" y2="408" stroke="#3e3e3e" stroke-width="1.25"/>
<line x1="660.11" y1="412.5" x2="660.11" y2="410" stroke="#3e3e3e" stroke-width="1.25"/>
<line x1="409.8" y1="397.5" x2="414.4" y2="397.5" stroke="#3e3e3e" stroke-width="1.25"/>
<text x="404.8" y="400.9" font-size="10.9" text-anchor="end" fill="#1c1c1c" stroke="#1c1c1c" stroke-width="0.34" font-weight="bold" font-family='"Liberation Sans", Arial, sans-serif' >0</text>
<line x1="409.8" y1="363.8" x2="414.4" y2="363.8" stroke="#3e3e3e" stroke-width="1.25"/>
<text x="404.8" y="367.2" font-size="10.9" text-anchor="end" fill="#1c1c1c" stroke="#1c1c1c" stroke-width="0.34" font-weight="bold" font-family='"Liberation Sans", Arial, sans-serif' >11000</text>
<line x1="409.8" y1="330.1" x2="414.4" y2="330.1" stroke="#3e3e3e" stroke-width="1.25"/>
<text x="404.8" y="333.5" font-size="10.9" text-anchor="end" fill="#1c1c1c" stroke="#1c1c1c" stroke-width="0.34" font-weight="bold" font-family='"Liberation Sans", Arial, sans-serif' >22000</text>
<line x1="409.8" y1="296.5" x2="414.4" y2="296.5" stroke="#3e3e3e" stroke-width="1.25"/>
<text x="404.8" y="299.9" font-size="10.9" text-anchor="end" fill="#1c1c1c" stroke="#1c1c1c" stroke-width="0.34" font-weight="bold" font-family='"Liberation Sans", Arial, sans-serif' >33000</text>
<line x1="409.8" y1="380.67" x2="412.8" y2="380.67" stroke="#3e3e3e" stroke-width="1.25"/>
<line x1="409.8" y1="347" x2="412.8" y2="347" stroke="#3e3e3e" stroke-width="1.25"/>
<line x1="409.8" y1="313.33" x2="412.8" y2="313.33" stroke="#3e3e3e" stroke-width="1.25"/>
<line x1="409.8" y1="279.67" x2="412.8" y2="279.67" stroke="#3e3e3e" stroke-width="1.25"/>
<polyline points="409.5,342.42 411.13,345.49 412.77,346.51 414.2,341.4 415.63,332.2 416.85,330.77 417.88,337.31 418.9,341.81 420.33,340.99 421.76,335.27 422.99,316.88 424.01,295.42 424.82,296.44 425.85,320.96 426.66,335.27 427.89,337.72 430.55,337.31 433.61,338.34 436.68,338.95 438.72,340.99 440.77,340.99 443.83,343.85 446.9,345.08 448.33,343.85 449.96,346.51 451.6,348.55 453.03,344.47 454.05,327.09 455.07,300.53 455.69,284.18 456.5,300.53 457.32,333.23 458.14,349.58 459.16,354.69 461.2,355.71 464.27,357.75 467.34,359.8 469.38,362.86 471.42,364.29 474.49,363.88 476.94,363.47 478.99,365.93 481.64,367.36 484.71,366.95 486.75,364.91 488.39,366.95 490.84,369.61 493.91,371.04 495.95,372.06 497.99,370.01 500.04,366.95 501.47,363.88 502.69,366.95 503.72,371.04 504.74,368.99 505.55,370.42 506.58,367.97 507.8,361.84 508.82,345.49 509.64,339.77 510.46,347.53 511.28,361.84 512.3,364.91 513.32,357.75 514.34,327.09 515.16,302.16 515.98,327.09 517,357.75 518.43,365.93 520.47,371.04 523.54,374.1 526.61,374.51 528.65,372.06 530.08,365.93 531.31,353.66 532.12,346.51 532.94,353.66 533.76,367.97 534.78,375.12 536.82,376.55 538.87,376.55 540,375.12 541.64,374.51 543.07,376.55 544.5,377.17 546.13,376.15 547.15,377.78 549.2,377.17 551.24,375.74 552.67,373.69 553.9,372.06 554.92,375.12 556.35,376.15 558.39,374.1 560.03,371.65 561.46,371.04 562.89,372.47 564.12,371.65 565.14,366.95 566.16,364.29 567.18,366.95 568.2,374.1 569.64,376.55 572.7,377.58 575.77,377.58 578.83,377.17 580.88,375.74 582.51,377.17 584.96,379.21 588.03,380.23 591.09,379.82 593.55,380.64 597.23,381.46 601.31,381.26 603.77,381.87 606.42,381.26 608.47,379.82 610.51,377.78 611.94,376.55 613.17,379.21 614.6,382.28 617.66,383.71 621.75,383.3 625.84,382.69 628.29,381.87 630.95,383.3 634.01,383.91 638.1,383.3 641.17,382.69 643.21,381.87 645.26,382.69 648.32,383.3 651.39,384.32 654.45,384.73 656.91,383.3 658.54,379.21 659.97,375.12 660.99,374.1 662.01,378.19 663.04,383.3 664.67,385.34 667.74,385.75 670.8,385.34 673.87,384.32 675.3,382.28 676.32,376.15 676.93,371.04" fill="none" stroke="#1a1a1a" stroke-width="1.1" stroke-linejoin="round" stroke-linecap="round"/>
<rect x="613.8" y="277" width="63" height="16.4" fill="#fff" stroke="#b5b5b5" stroke-width="0.8"/>
<line x1="615" y1="285.8" x2="640.3" y2="285.8" stroke="#505050" stroke-width="1.8"/>
<text x="643.8" y="289.2" font-size="11.8" text-anchor="start" fill="#1c1c1c" stroke="#1c1c1c" stroke-width="0.4" font-weight="bold" font-family='"Liberation Sans", Arial, sans-serif' textLength="29.1" lengthAdjust="spacingAndGlyphs" >[rGO]</text>
<text x="426.5" y="293" font-size="9.6" text-anchor="middle" fill="#1c1c1c" stroke="#1c1c1c" stroke-width="0.34" font-weight="bold" font-family='"Liberation Sans", Arial, sans-serif' textLength="22.6" lengthAdjust="spacingAndGlyphs" >(002)</text>
<text x="458.4" y="285.9" font-size="9.6" text-anchor="middle" fill="#1c1c1c" stroke="#1c1c1c" stroke-width="0.34" font-weight="bold" font-family='"Liberation Sans", Arial, sans-serif' textLength="22.6" lengthAdjust="spacingAndGlyphs" >(032)</text>
<text x="502.3" y="335.9" font-size="9.6" text-anchor="middle" fill="#1c1c1c" stroke="#1c1c1c" stroke-width="0.34" font-weight="bold" font-family='"Liberation Sans", Arial, sans-serif' textLength="22.6" lengthAdjust="spacingAndGlyphs" >(017)</text>
<text x="517.8" y="298.1" font-size="9.6" text-anchor="middle" fill="#1c1c1c" stroke="#1c1c1c" stroke-width="0.34" font-weight="bold" font-family='"Liberation Sans", Arial, sans-serif' textLength="22.6" lengthAdjust="spacingAndGlyphs" >(320)</text>
<text x="536.6" y="343.3" font-size="9.6" text-anchor="middle" fill="#1c1c1c" stroke="#1c1c1c" stroke-width="0.34" font-weight="bold" font-family='"Liberation Sans", Arial, sans-serif' textLength="22.6" lengthAdjust="spacingAndGlyphs" >(330)</text>
<text x="366.1" y="344.8" font-size="12.3" text-anchor="middle" fill="#1c1c1c" stroke="#1c1c1c" stroke-width="0.34" font-weight="bold" font-family='"Liberation Sans", Arial, sans-serif' textLength="91" lengthAdjust="spacingAndGlyphs" transform="rotate(-90 366.1 344.8)" >Intensity (a.u.)</text>
<rect x="409.8" y="3.8" width="267" height="408.7" fill="none" stroke="#646464" stroke-width="1.8"/>
<line x1="409.8" y1="140.3" x2="676.8" y2="140.3" stroke="#646464" stroke-width="1.7"/>
<line x1="409.8" y1="277" x2="676.8" y2="277" stroke="#646464" stroke-width="1.7"/>
<text x="409.8" y="426.9" font-size="10.2" text-anchor="middle" fill="#1c1c1c" stroke="#1c1c1c" stroke-width="0.34" font-weight="bold" font-family='"Liberation Sans", Arial, sans-serif' >20</text>
<text x="443.18" y="426.9" font-size="10.2" text-anchor="middle" fill="#1c1c1c" stroke="#1c1c1c" stroke-width="0.34" font-weight="bold" font-family='"Liberation Sans", Arial, sans-serif' >25</text>
<text x="476.55" y="426.9" font-size="10.2" text-anchor="middle" fill="#1c1c1c" stroke="#1c1c1c" stroke-width="0.34" font-weight="bold" font-family='"Liberation Sans", Arial, sans-serif' >30</text>
<text x="509.93" y="426.9" font-size="10.2" text-anchor="middle" fill="#1c1c1c" stroke="#1c1c1c" stroke-width="0.34" font-weight="bold" font-family='"Liberation Sans", Arial, sans-serif' >35</text>
<text x="543.3" y="426.9" font-size="10.2" text-anchor="middle" fill="#1c1c1c" stroke="#1c1c1c" stroke-width="0.34" font-weight="bold" font-family='"Liberation Sans", Arial, sans-serif' >40</text>
<text x="576.67" y="426.9" font-size="10.2" text-anchor="middle" fill="#1c1c1c" stroke="#1c1c1c" stroke-width="0.34" font-weight="bold" font-family='"Liberation Sans", Arial, sans-serif' >45</text>
<text x="610.05" y="426.9" font-size="10.2" text-anchor="middle" fill="#1c1c1c" stroke="#1c1c1c" stroke-width="0.34" font-weight="bold" font-family='"Liberation Sans", Arial, sans-serif' >50</text>
<text x="643.42" y="426.9" font-size="10.2" text-anchor="middle" fill="#1c1c1c" stroke="#1c1c1c" stroke-width="0.34" font-weight="bold" font-family='"Liberation Sans", Arial, sans-serif' >55</text>
<text x="676.8" y="426.9" font-size="10.2" text-anchor="middle" fill="#1c1c1c" stroke="#1c1c1c" stroke-width="0.34" font-weight="bold" font-family='"Liberation Sans", Arial, sans-serif' >60</text>
<text x="508.3" y="449.4" font-size="13" text-anchor="start" fill="#1c1c1c" stroke="#1c1c1c" stroke-width="0.34" font-weight="bold" font-family='"Liberation Sans", Arial, sans-serif' textLength="71.4" lengthAdjust="spacingAndGlyphs" ><tspan font-family='"Liberation Serif", "DejaVu Serif", serif' font-size="14">2θ</tspan> (degree)</text>
<text x="357.1" y="425.4" font-size="18" text-anchor="start" fill="#111" stroke="#111" stroke-width="0.34" font-weight="bold" font-family='"Liberation Serif", "DejaVu Serif", serif' textLength="27.1" lengthAdjust="spacingAndGlyphs" >(b)</text>
<line x1="79.38" y1="614.8" x2="79.38" y2="612.3" stroke="#3e3e3e" stroke-width="1.25"/>
<line x1="96.15" y1="614.8" x2="96.15" y2="610.3" stroke="#3e3e3e" stroke-width="1.25"/>
<line x1="112.92" y1="614.8" x2="112.92" y2="612.3" stroke="#3e3e3e" stroke-width="1.25"/>
<line x1="129.7" y1="614.8" x2="129.7" y2="610.3" stroke="#3e3e3e" stroke-width="1.25"/>
<line x1="146.47" y1="614.8" x2="146.47" y2="612.3" stroke="#3e3e3e" stroke-width="1.25"/>
<line x1="163.25" y1="614.8" x2="163.25" y2="610.3" stroke="#3e3e3e" stroke-width="1.25"/>
<line x1="180.02" y1="614.8" x2="180.02" y2="612.3" stroke="#3e3e3e" stroke-width="1.25"/>
<line x1="196.8" y1="614.8" x2="196.8" y2="610.3" stroke="#3e3e3e" stroke-width="1.25"/>
<line x1="213.57" y1="614.8" x2="213.57" y2="612.3" stroke="#3e3e3e" stroke-width="1.25"/>
<line x1="230.35" y1="614.8" x2="230.35" y2="610.3" stroke="#3e3e3e" stroke-width="1.25"/>
<line x1="247.12" y1="614.8" x2="247.12" y2="612.3" stroke="#3e3e3e" stroke-width="1.25"/>
<line x1="263.9" y1="614.8" x2="263.9" y2="610.3" stroke="#3e3e3e" stroke-width="1.25"/>
<line x1="280.67" y1="614.8" x2="280.67" y2="612.3" stroke="#3e3e3e" stroke-width="1.25"/>
<line x1="297.45" y1="614.8" x2="297.45" y2="610.3" stroke="#3e3e3e" stroke-width="1.25"/>
<line x1="314.22" y1="614.8" x2="314.22" y2="612.3" stroke="#3e3e3e" stroke-width="1.25"/>
<line x1="62.6" y1="595.4" x2="67.2" y2="595.4" stroke="#3e3e3e" stroke-width="1.25"/>
<text x="57.6" y="598.87" font-size="11.1" text-anchor="end" fill="#1c1c1c" stroke="#1c1c1c" stroke-width="0.34" font-weight="bold" font-family='"Liberation Sans", Arial, sans-serif' >520</text>
<line x1="62.6" y1="561.2" x2="67.2" y2="561.2" stroke="#3e3e3e" stroke-width="1.25"/>
<text x="57.6" y="564.67" font-size="11.1" text-anchor="end" fill="#1c1c1c" stroke="#1c1c1c" stroke-width="0.34" font-weight="bold" font-family='"Liberation Sans", Arial, sans-serif' >1040</text>
<line x1="62.6" y1="527" x2="67.2" y2="527" stroke="#3e3e3e" stroke-width="1.25"/>
<text x="57.6" y="530.47" font-size="11.1" text-anchor="end" fill="#1c1c1c" stroke="#1c1c1c" stroke-width="0.34" font-weight="bold" font-family='"Liberation Sans", Arial, sans-serif' >1560</text>
<line x1="62.6" y1="492.9" x2="67.2" y2="492.9" stroke="#3e3e3e" stroke-width="1.25"/>
<text x="57.6" y="496.37" font-size="11.1" text-anchor="end" fill="#1c1c1c" stroke="#1c1c1c" stroke-width="0.34" font-weight="bold" font-family='"Liberation Sans", Arial, sans-serif' >2080</text>
<line x1="62.6" y1="612.48" x2="65.6" y2="612.48" stroke="#3e3e3e" stroke-width="1.25"/>
<line x1="62.6" y1="578.32" x2="65.6" y2="578.32" stroke="#3e3e3e" stroke-width="1.25"/>
<line x1="62.6" y1="544.15" x2="65.6" y2="544.15" stroke="#3e3e3e" stroke-width="1.25"/>
<line x1="62.6" y1="509.98" x2="65.6" y2="509.98" stroke="#3e3e3e" stroke-width="1.25"/>
<polyline points="62.72,575.69 64.15,578.15 65.58,583.26 67.22,587.34 69.26,590.41 71.72,592.86 73.76,593.47 74.99,592.45 76.42,594.5 79.48,595.93 82.55,596.95 85.61,597.56 88.68,596.54 91.74,594.5 94.81,591.43 97.47,588.36 99.92,585.91 101.96,582.23 103.6,576.1 104.62,563.84 105.44,554.03 106.26,553.21 107.07,567.93 108.09,578.15 109.73,577.12 111.77,574.06 113.82,570.99 115.04,564.86 115.86,563.84 116.68,568.95 117.7,563.84 118.52,549.53 119.13,545.85 119.95,557.71 120.97,561.8 122.81,559.75 125.47,557.71 128.12,556.69 130.58,555.26 132.21,554.03 133.44,556.69 134.26,539.31 134.87,528.07 135.69,545.45 136.5,559.75 137.53,556.69 138.75,560.77 140.39,562.82 142.84,565.88 145.91,566.91 148.97,568.95 152.04,570.38 154.69,572.01 156.74,570.99 158.17,573.65 159.6,569.97 160.82,564.86 161.85,563.84 162.87,570.99 163.89,559.75 164.71,545.45 165.53,545.45 166.34,563.84 167.36,570.99 169.41,573.04 171.04,574.06 172.27,565.88 173.09,561.39 174.11,572.01 175.54,576.51 177.58,575.69 179.63,577.74 181.67,576.51 183.72,575.69 185.76,576.72 187.8,574.06 189.03,563.84 189.85,535.23 190.66,502.53 191.28,493.94 192,539.31 192.82,563.84 194.04,572.01 195.68,577.12 198.13,579.58 201.2,581.21 204.26,582.23 207.33,582.23 209.99,582.64 211.82,581.21 213.26,577.12 214.48,574.06 215.71,576.1 216.93,581.21 218.57,583.87 221.64,584.69 224.7,585.3 227.15,584.69 228.79,583.87 230.42,585.71 232.88,585.91 234.92,584.69 236.35,585.3 237.58,583.26 239.01,585.91 242.07,586.32 244.12,585.3 245.34,580.19 246.16,572.01 246.98,572.42 247.8,584.28 249.23,586.32 252.29,586.73 255.36,586.93 258.42,586.32 261.49,585.3 263.53,585.91 265.17,584.28 266.8,585.91 269.66,586.32 272.12,585.71 273.75,584.28 275.39,586.32 278.86,586.73 281.93,586.93 283.97,585.91 285.2,581.21 286.01,579.78 287.24,583.87 289.08,585.3 291.74,584.69 293.78,585.71 295.82,584.28 298.28,585.71 301.34,585.91 304,584.89 306.45,585.91 309.52,585.5 312.58,585.91 315.65,585.3 318.72,584.69 321.17,585.71 323.82,586.32 326.48,585.71 328.93,585.91 330.57,585.71" fill="none" stroke="#ff78be" stroke-width="1.45" stroke-linejoin="round" stroke-linecap="round"/>
<rect x="225.5" y="478.3" width="105.5" height="17.7" fill="#fff" stroke="#b5b5b5" stroke-width="0.8"/>
<line x1="227.3" y1="488.4" x2="253" y2="488.4" stroke="#ff78be" stroke-width="1.8"/>
<text x="256.2" y="491.8" font-size="11.8" text-anchor="start" fill="#1c1c1c" stroke="#1c1c1c" stroke-width="0.4" font-weight="bold" font-family='"Liberation Sans", Arial, sans-serif' textLength="70.3" lengthAdjust="spacingAndGlyphs" >[rGO-M2-Por]</text>
<text x="99.1" y="550.7" font-size="9.6" text-anchor="middle" fill="#1c1c1c" stroke="#1c1c1c" stroke-width="0.34" font-weight="bold" font-family='"Liberation Sans", Arial, sans-serif' textLength="22.6" lengthAdjust="spacingAndGlyphs" >(112)</text>
<text x="122.1" y="544.1" font-size="9.6" text-anchor="middle" fill="#1c1c1c" stroke="#1c1c1c" stroke-width="0.34" font-weight="bold" font-family='"Liberation Sans", Arial, sans-serif' textLength="22.6" lengthAdjust="spacingAndGlyphs" >(411)</text>
<text x="139.6" y="525.3" font-size="9.6" text-anchor="middle" fill="#1c1c1c" stroke="#1c1c1c" stroke-width="0.34" font-weight="bold" font-family='"Liberation Sans", Arial, sans-serif' textLength="22.6" lengthAdjust="spacingAndGlyphs" >(312)</text>
<text x="169.6" y="540.5" font-size="9.6" text-anchor="middle" fill="#1c1c1c" stroke="#1c1c1c" stroke-width="0.34" font-weight="bold" font-family='"Liberation Sans", Arial, sans-serif' textLength="22.6" lengthAdjust="spacingAndGlyphs" >(213)</text>
<text x="197.1" y="491.8" font-size="9.6" text-anchor="middle" fill="#1c1c1c" stroke="#1c1c1c" stroke-width="0.34" font-weight="bold" font-family='"Liberation Sans", Arial, sans-serif' textLength="22.6" lengthAdjust="spacingAndGlyphs" >(320)</text>
<text x="20.4" y="546.2" font-size="12.38" text-anchor="middle" fill="#1c1c1c" stroke="#1c1c1c" stroke-width="0.34" font-weight="bold" font-family='"Liberation Sans", Arial, sans-serif' textLength="91.6" lengthAdjust="spacingAndGlyphs" transform="rotate(-90 20.4 546.2)" >Intensity (a.u.)</text>
<line x1="79.38" y1="751.2" x2="79.38" y2="748.7" stroke="#3e3e3e" stroke-width="1.25"/>
<line x1="96.15" y1="751.2" x2="96.15" y2="746.7" stroke="#3e3e3e" stroke-width="1.25"/>
<line x1="112.92" y1="751.2" x2="112.92" y2="748.7" stroke="#3e3e3e" stroke-width="1.25"/>
<line x1="129.7" y1="751.2" x2="129.7" y2="746.7" stroke="#3e3e3e" stroke-width="1.25"/>
<line x1="146.47" y1="751.2" x2="146.47" y2="748.7" stroke="#3e3e3e" stroke-width="1.25"/>
<line x1="163.25" y1="751.2" x2="163.25" y2="746.7" stroke="#3e3e3e" stroke-width="1.25"/>
<line x1="180.02" y1="751.2" x2="180.02" y2="748.7" stroke="#3e3e3e" stroke-width="1.25"/>
<line x1="196.8" y1="751.2" x2="196.8" y2="746.7" stroke="#3e3e3e" stroke-width="1.25"/>
<line x1="213.57" y1="751.2" x2="213.57" y2="748.7" stroke="#3e3e3e" stroke-width="1.25"/>
<line x1="230.35" y1="751.2" x2="230.35" y2="746.7" stroke="#3e3e3e" stroke-width="1.25"/>
<line x1="247.12" y1="751.2" x2="247.12" y2="748.7" stroke="#3e3e3e" stroke-width="1.25"/>
<line x1="263.9" y1="751.2" x2="263.9" y2="746.7" stroke="#3e3e3e" stroke-width="1.25"/>
<line x1="280.67" y1="751.2" x2="280.67" y2="748.7" stroke="#3e3e3e" stroke-width="1.25"/>
<line x1="297.45" y1="751.2" x2="297.45" y2="746.7" stroke="#3e3e3e" stroke-width="1.25"/>
<line x1="314.22" y1="751.2" x2="314.22" y2="748.7" stroke="#3e3e3e" stroke-width="1.25"/>
<line x1="62.6" y1="750" x2="67.2" y2="750" stroke="#3e3e3e" stroke-width="1.25"/>
<text x="57.6" y="753.47" font-size="11.1" text-anchor="end" fill="#1c1c1c" stroke="#1c1c1c" stroke-width="0.34" font-weight="bold" font-family='"Liberation Sans", Arial, sans-serif' >0</text>
<line x1="62.6" y1="714.8" x2="67.2" y2="714.8" stroke="#3e3e3e" stroke-width="1.25"/>
<text x="57.6" y="718.27" font-size="11.1" text-anchor="end" fill="#1c1c1c" stroke="#1c1c1c" stroke-width="0.34" font-weight="bold" font-family='"Liberation Sans", Arial, sans-serif' >14000</text>
<line x1="62.6" y1="679.6" x2="67.2" y2="679.6" stroke="#3e3e3e" stroke-width="1.25"/>
<text x="57.6" y="683.07" font-size="11.1" text-anchor="end" fill="#1c1c1c" stroke="#1c1c1c" stroke-width="0.34" font-weight="bold" font-family='"Liberation Sans", Arial, sans-serif' >28000</text>
<line x1="62.6" y1="644.4" x2="67.2" y2="644.4" stroke="#3e3e3e" stroke-width="1.25"/>
<text x="57.6" y="647.87" font-size="11.1" text-anchor="end" fill="#1c1c1c" stroke="#1c1c1c" stroke-width="0.34" font-weight="bold" font-family='"Liberation Sans", Arial, sans-serif' >42000</text>
<line x1="62.6" y1="732.4" x2="65.6" y2="732.4" stroke="#3e3e3e" stroke-width="1.25"/>
<line x1="62.6" y1="697.2" x2="65.6" y2="697.2" stroke="#3e3e3e" stroke-width="1.25"/>
<line x1="62.6" y1="662" x2="65.6" y2="662" stroke="#3e3e3e" stroke-width="1.25"/>
<line x1="62.6" y1="626.8" x2="65.6" y2="626.8" stroke="#3e3e3e" stroke-width="1.25"/>
<polyline points="62.72,717.21 63.74,722.32 64.77,718.23 65.58,712.1 66.2,703.52 67.01,714.15 67.83,719.26 68.85,716.19 69.47,695.75 70.08,665.09 70.69,649.77 71.31,665.09 71.92,699.84 72.53,715.17 73.35,710.06 74.17,707.61 74.99,713.12 76.21,715.78 77.85,714.55 79.89,713.74 81.93,712.1 83.16,706.99 84.18,701.47 85.2,704.95 86.64,704.95 88.07,702.91 89.29,700.86 90.31,691.66 91.34,679.4 92.15,676.34 92.77,654.88 93.38,633.42 93.99,654.88 94.61,632.39 95.22,654.88 95.83,683.49 96.85,692.69 97.88,691.66 99.1,695.75 100.12,690.64 100.94,684.51 101.76,682.47 102.78,685.53 103.8,694.73 105.03,689.62 106.05,685.53 107.28,688.6 108.5,687.17 109.73,685.53 110.75,691.66 111.77,694.73 113,695.75 114.23,692.69 115.25,691.66 116.27,696.77 117.5,699.84 118.72,696.77 119.95,697.8 120.97,695.75 121.99,690.64 122.81,690.03 123.63,703.93 124.85,705.97 126.49,706.99 128.53,705.97 130.17,708.01 132.62,709.04 135.69,711.69 138.75,714.15 141.82,715.17 144.88,717.21 147.95,718.64 151.01,719.26 153.47,718.23 155.51,719.26 157.55,721.3 160.21,720.28 163.28,720.69 166.34,721.71 169,720.89 171.45,722.32 174.52,721.91 177.58,723.34 180.65,723.34 183.72,724.36 186.78,723.75 189.85,724.77 192,724.77 196.09,725.8 199.15,726.41 201.2,725.59 203.24,726.41 208.35,727.43 216.53,728.04 226.74,729.07 239.01,729.88 253.31,730.91 263.53,731.72 277.84,732.54 294.19,733.36 310.54,734.18 322.8,734.79 330.57,735.2" fill="none" stroke="#8428ff" stroke-width="1.5" stroke-linejoin="round" stroke-linecap="round"/>
<rect x="252" y="614.8" width="79" height="16.2" fill="#fff" stroke="#b5b5b5" stroke-width="0.8"/>
<line x1="253.7" y1="624" x2="278.8" y2="624" stroke="#8428ff" stroke-width="1.8"/>
<text x="282.6" y="627.4" font-size="11.8" text-anchor="start" fill="#1c1c1c" stroke="#1c1c1c" stroke-width="0.4" font-weight="bold" font-family='"Liberation Sans", Arial, sans-serif' textLength="43.9" lengthAdjust="spacingAndGlyphs" >[M2-Por]</text>
<text x="96.6" y="627.7" font-size="9.6" text-anchor="middle" fill="#1c1c1c" stroke="#1c1c1c" stroke-width="0.34" font-weight="bold" font-family='"Liberation Sans", Arial, sans-serif' textLength="22.6" lengthAdjust="spacingAndGlyphs" >(130)</text>
<text x="78" y="644.9" font-size="9.6" text-anchor="middle" fill="#1c1c1c" stroke="#1c1c1c" stroke-width="0.34" font-weight="bold" font-family='"Liberation Sans", Arial, sans-serif' textLength="22.6" lengthAdjust="spacingAndGlyphs" >(002)</text>
<text x="20.4" y="682.4" font-size="12.16" text-anchor="middle" fill="#1c1c1c" stroke="#1c1c1c" stroke-width="0.34" font-weight="bold" font-family='"Liberation Sans", Arial, sans-serif' textLength="90" lengthAdjust="spacingAndGlyphs" transform="rotate(-90 20.4 682.4)" >Intensity (a.u.)</text>
<line x1="79.38" y1="886.8" x2="79.38" y2="884.3" stroke="#3e3e3e" stroke-width="1.25"/>
<line x1="96.15" y1="886.8" x2="96.15" y2="882.3" stroke="#3e3e3e" stroke-width="1.25"/>
<line x1="112.92" y1="886.8" x2="112.92" y2="884.3" stroke="#3e3e3e" stroke-width="1.25"/>
<line x1="129.7" y1="886.8" x2="129.7" y2="882.3" stroke="#3e3e3e" stroke-width="1.25"/>
<line x1="146.47" y1="886.8" x2="146.47" y2="884.3" stroke="#3e3e3e" stroke-width="1.25"/>
<line x1="163.25" y1="886.8" x2="163.25" y2="882.3" stroke="#3e3e3e" stroke-width="1.25"/>
<line x1="180.02" y1="886.8" x2="180.02" y2="884.3" stroke="#3e3e3e" stroke-width="1.25"/>
<line x1="196.8" y1="886.8" x2="196.8" y2="882.3" stroke="#3e3e3e" stroke-width="1.25"/>
<line x1="213.57" y1="886.8" x2="213.57" y2="884.3" stroke="#3e3e3e" stroke-width="1.25"/>
<line x1="230.35" y1="886.8" x2="230.35" y2="882.3" stroke="#3e3e3e" stroke-width="1.25"/>
<line x1="247.12" y1="886.8" x2="247.12" y2="884.3" stroke="#3e3e3e" stroke-width="1.25"/>
<line x1="263.9" y1="886.8" x2="263.9" y2="882.3" stroke="#3e3e3e" stroke-width="1.25"/>
<line x1="280.67" y1="886.8" x2="280.67" y2="884.3" stroke="#3e3e3e" stroke-width="1.25"/>
<line x1="297.45" y1="886.8" x2="297.45" y2="882.3" stroke="#3e3e3e" stroke-width="1.25"/>
<line x1="314.22" y1="886.8" x2="314.22" y2="884.3" stroke="#3e3e3e" stroke-width="1.25"/>
<line x1="62.6" y1="871" x2="67.2" y2="871" stroke="#3e3e3e" stroke-width="1.25"/>
<text x="57.6" y="874.47" font-size="11.1" text-anchor="end" fill="#1c1c1c" stroke="#1c1c1c" stroke-width="0.34" font-weight="bold" font-family='"Liberation Sans", Arial, sans-serif' >0</text>
<line x1="62.6" y1="836.6" x2="67.2" y2="836.6" stroke="#3e3e3e" stroke-width="1.25"/>
<text x="57.6" y="840.07" font-size="11.1" text-anchor="end" fill="#1c1c1c" stroke="#1c1c1c" stroke-width="0.34" font-weight="bold" font-family='"Liberation Sans", Arial, sans-serif' >11000</text>
<line x1="62.6" y1="802.2" x2="67.2" y2="802.2" stroke="#3e3e3e" stroke-width="1.25"/>
<text x="57.6" y="805.67" font-size="11.1" text-anchor="end" fill="#1c1c1c" stroke="#1c1c1c" stroke-width="0.34" font-weight="bold" font-family='"Liberation Sans", Arial, sans-serif' >22000</text>
<line x1="62.6" y1="767.8" x2="67.2" y2="767.8" stroke="#3e3e3e" stroke-width="1.25"/>
<text x="57.6" y="771.27" font-size="11.1" text-anchor="end" fill="#1c1c1c" stroke="#1c1c1c" stroke-width="0.34" font-weight="bold" font-family='"Liberation Sans", Arial, sans-serif' >33000</text>
<line x1="62.6" y1="853.8" x2="65.6" y2="853.8" stroke="#3e3e3e" stroke-width="1.25"/>
<line x1="62.6" y1="819.4" x2="65.6" y2="819.4" stroke="#3e3e3e" stroke-width="1.25"/>
<line x1="62.6" y1="785" x2="65.6" y2="785" stroke="#3e3e3e" stroke-width="1.25"/>
<polyline points="62.09,814.68 63.74,817.81 65.38,818.85 66.82,813.63 68.26,804.25 69.49,802.79 70.52,809.46 71.54,814.05 72.98,813.22 74.42,807.38 75.65,788.6 76.68,766.69 77.5,767.74 78.53,792.77 79.35,807.38 80.58,809.88 83.26,809.46 86.34,810.5 89.42,811.13 91.47,813.22 93.53,813.22 96.61,816.14 99.69,817.39 101.13,816.14 102.77,818.85 104.42,820.94 105.85,816.76 106.88,799.03 107.91,771.91 108.53,757.6 109.35,771.91 110.17,805.29 110.99,821.98 112.02,827.19 114.07,828.24 117.15,830.32 120.24,832.41 122.29,835.54 124.35,837 127.43,836.58 129.89,836.17 131.95,838.67 134.62,840.13 137.7,839.71 139.75,837.63 141.4,839.71 143.86,842.42 146.95,843.88 149,844.93 151.05,842.84 153.11,839.71 154.55,836.58 155.78,839.71 156.81,843.88 157.83,841.8 158.66,843.26 159.68,840.76 160.92,834.5 161.94,817.81 162.76,811.97 163.59,819.89 164.41,834.5 165.44,837.63 166.46,830.32 167.49,799.03 168.31,773.58 169.13,799.03 170.16,830.32 171.6,838.67 173.65,843.88 176.74,847.01 179.82,847.43 181.87,844.93 183.31,838.67 184.54,826.15 185.36,818.85 186.19,826.15 187.01,840.76 188.04,848.06 190.09,849.52 192.14,849.52 193.28,848.06 194.93,847.43 196.36,849.52 197.8,850.14 199.45,849.1 200.47,850.77 202.53,850.14 204.58,848.68 206.02,846.6 207.25,844.93 208.28,848.06 209.72,849.1 211.77,847.01 213.42,844.51 214.85,843.88 216.29,845.35 217.52,844.51 218.55,839.71 219.58,837 220.61,839.71 221.63,847.01 223.07,849.52 226.15,850.56 229.24,850.56 232.32,850.14 234.37,848.68 236.02,850.14 238.48,852.23 241.56,853.27 244.64,852.86 247.11,853.69 250.81,854.52 254.92,854.32 257.38,854.94 260.05,854.32 262.11,852.86 264.16,850.77 265.6,849.52 266.83,852.23 268.27,855.36 271.35,856.82 275.46,856.4 279.57,855.78 282.04,854.94 284.71,856.4 287.79,857.03 291.9,856.4 294.98,855.78 297.03,854.94 299.09,855.78 302.17,856.4 305.25,857.45 308.33,857.86 310.8,856.4 312.44,852.23 313.88,848.06 314.91,847.01 315.94,851.19 316.96,856.4 318.61,858.49 321.69,858.91 324.77,858.49 327.85,857.45 329.29,855.36 330.32,849.1 330.93,843.88" fill="none" stroke="#1a1a1a" stroke-width="1.1" stroke-linejoin="round" stroke-linecap="round"/>
<rect x="269.5" y="751.2" width="61.5" height="17.2" fill="#fff" stroke="#b5b5b5" stroke-width="0.8"/>
<line x1="271.2" y1="760" x2="296.4" y2="760" stroke="#505050" stroke-width="1.8"/>
<text x="300" y="763.4" font-size="11.8" text-anchor="start" fill="#1c1c1c" stroke="#1c1c1c" stroke-width="0.4" font-weight="bold" font-family='"Liberation Sans", Arial, sans-serif' textLength="29" lengthAdjust="spacingAndGlyphs" >[rGO]</text>
<text x="79.5" y="764.6" font-size="9.6" text-anchor="middle" fill="#1c1c1c" stroke="#1c1c1c" stroke-width="0.34" font-weight="bold" font-family='"Liberation Sans", Arial, sans-serif' textLength="22.6" lengthAdjust="spacingAndGlyphs" >(002)</text>
<text x="110.4" y="760.4" font-size="9.6" text-anchor="middle" fill="#1c1c1c" stroke="#1c1c1c" stroke-width="0.34" font-weight="bold" font-family='"Liberation Sans", Arial, sans-serif' textLength="22.6" lengthAdjust="spacingAndGlyphs" >(032)</text>
<text x="154.5" y="804.4" font-size="9.6" text-anchor="middle" fill="#1c1c1c" stroke="#1c1c1c" stroke-width="0.34" font-weight="bold" font-family='"Liberation Sans", Arial, sans-serif' textLength="22.6" lengthAdjust="spacingAndGlyphs" >(017)</text>
<text x="170.2" y="771.9" font-size="9.6" text-anchor="middle" fill="#1c1c1c" stroke="#1c1c1c" stroke-width="0.34" font-weight="bold" font-family='"Liberation Sans", Arial, sans-serif' textLength="22.6" lengthAdjust="spacingAndGlyphs" >(320)</text>
<text x="190.3" y="816" font-size="9.6" text-anchor="middle" fill="#1c1c1c" stroke="#1c1c1c" stroke-width="0.34" font-weight="bold" font-family='"Liberation Sans", Arial, sans-serif' textLength="22.6" lengthAdjust="spacingAndGlyphs" >(330)</text>
<text x="20.4" y="817.9" font-size="12.41" text-anchor="middle" fill="#1c1c1c" stroke="#1c1c1c" stroke-width="0.34" font-weight="bold" font-family='"Liberation Sans", Arial, sans-serif' textLength="91.8" lengthAdjust="spacingAndGlyphs" transform="rotate(-90 20.4 817.9)" >Intensity (a.u.)</text>
<rect x="62.6" y="478.3" width="268.4" height="408.5" fill="none" stroke="#646464" stroke-width="1.8"/>
<line x1="62.6" y1="614.8" x2="331" y2="614.8" stroke="#646464" stroke-width="1.7"/>
<line x1="62.6" y1="751.2" x2="331" y2="751.2" stroke="#646464" stroke-width="1.7"/>
<text x="62.6" y="900.6" font-size="10.2" text-anchor="middle" fill="#1c1c1c" stroke="#1c1c1c" stroke-width="0.34" font-weight="bold" font-family='"Liberation Sans", Arial, sans-serif' >20</text>
<text x="96.15" y="900.6" font-size="10.2" text-anchor="middle" fill="#1c1c1c" stroke="#1c1c1c" stroke-width="0.34" font-weight="bold" font-family='"Liberation Sans", Arial, sans-serif' >25</text>
<text x="129.7" y="900.6" font-size="10.2" text-anchor="middle" fill="#1c1c1c" stroke="#1c1c1c" stroke-width="0.34" font-weight="bold" font-family='"Liberation Sans", Arial, sans-serif' >30</text>
<text x="163.25" y="900.6" font-size="10.2" text-anchor="middle" fill="#1c1c1c" stroke="#1c1c1c" stroke-width="0.34" font-weight="bold" font-family='"Liberation Sans", Arial, sans-serif' >35</text>
<text x="196.8" y="900.6" font-size="10.2" text-anchor="middle" fill="#1c1c1c" stroke="#1c1c1c" stroke-width="0.34" font-weight="bold" font-family='"Liberation Sans", Arial, sans-serif' >40</text>
<text x="230.35" y="900.6" font-size="10.2" text-anchor="middle" fill="#1c1c1c" stroke="#1c1c1c" stroke-width="0.34" font-weight="bold" font-family='"Liberation Sans", Arial, sans-serif' >45</text>
<text x="263.9" y="900.6" font-size="10.2" text-anchor="middle" fill="#1c1c1c" stroke="#1c1c1c" stroke-width="0.34" font-weight="bold" font-family='"Liberation Sans", Arial, sans-serif' >50</text>
<text x="297.45" y="900.6" font-size="10.2" text-anchor="middle" fill="#1c1c1c" stroke="#1c1c1c" stroke-width="0.34" font-weight="bold" font-family='"Liberation Sans", Arial, sans-serif' >55</text>
<text x="331" y="900.6" font-size="10.2" text-anchor="middle" fill="#1c1c1c" stroke="#1c1c1c" stroke-width="0.34" font-weight="bold" font-family='"Liberation Sans", Arial, sans-serif' >60</text>
<text x="160.8" y="923.1" font-size="13" text-anchor="start" fill="#1c1c1c" stroke="#1c1c1c" stroke-width="0.34" font-weight="bold" font-family='"Liberation Sans", Arial, sans-serif' textLength="72" lengthAdjust="spacingAndGlyphs" ><tspan font-family='"Liberation Serif", "DejaVu Serif", serif' font-size="14">2θ</tspan> (degree)</text>
<text x="5" y="898.4" font-size="18" text-anchor="start" fill="#111" stroke="#111" stroke-width="0.34" font-weight="bold" font-family='"Liberation Serif", "DejaVu Serif", serif' textLength="24.1" lengthAdjust="spacingAndGlyphs" >(c)</text>
<line x1="422.4" y1="615.1" x2="422.4" y2="612.6" stroke="#3e3e3e" stroke-width="1.25"/>
<line x1="439.1" y1="615.1" x2="439.1" y2="610.6" stroke="#3e3e3e" stroke-width="1.25"/>
<line x1="455.8" y1="615.1" x2="455.8" y2="612.6" stroke="#3e3e3e" stroke-width="1.25"/>
<line x1="472.5" y1="615.1" x2="472.5" y2="610.6" stroke="#3e3e3e" stroke-width="1.25"/>
<line x1="489.2" y1="615.1" x2="489.2" y2="612.6" stroke="#3e3e3e" stroke-width="1.25"/>
<line x1="505.9" y1="615.1" x2="505.9" y2="610.6" stroke="#3e3e3e" stroke-width="1.25"/>
<line x1="522.6" y1="615.1" x2="522.6" y2="612.6" stroke="#3e3e3e" stroke-width="1.25"/>
<line x1="539.3" y1="615.1" x2="539.3" y2="610.6" stroke="#3e3e3e" stroke-width="1.25"/>
<line x1="556" y1="615.1" x2="556" y2="612.6" stroke="#3e3e3e" stroke-width="1.25"/>
<line x1="572.7" y1="615.1" x2="572.7" y2="610.6" stroke="#3e3e3e" stroke-width="1.25"/>
<line x1="589.4" y1="615.1" x2="589.4" y2="612.6" stroke="#3e3e3e" stroke-width="1.25"/>
<line x1="606.1" y1="615.1" x2="606.1" y2="610.6" stroke="#3e3e3e" stroke-width="1.25"/>
<line x1="622.8" y1="615.1" x2="622.8" y2="612.6" stroke="#3e3e3e" stroke-width="1.25"/>
<line x1="639.5" y1="615.1" x2="639.5" y2="610.6" stroke="#3e3e3e" stroke-width="1.25"/>
<line x1="656.2" y1="615.1" x2="656.2" y2="612.6" stroke="#3e3e3e" stroke-width="1.25"/>
<line x1="405.7" y1="614.8" x2="410.3" y2="614.8" stroke="#3e3e3e" stroke-width="1.25"/>
<text x="400" y="618.27" font-size="11.1" text-anchor="end" fill="#1c1c1c" stroke="#1c1c1c" stroke-width="0.34" font-weight="bold" font-family='"Liberation Sans", Arial, sans-serif' >0</text>
<line x1="405.7" y1="580.4" x2="410.3" y2="580.4" stroke="#3e3e3e" stroke-width="1.25"/>
<text x="400" y="583.87" font-size="11.1" text-anchor="end" fill="#1c1c1c" stroke="#1c1c1c" stroke-width="0.34" font-weight="bold" font-family='"Liberation Sans", Arial, sans-serif' >7800</text>
<line x1="405.7" y1="546" x2="410.3" y2="546" stroke="#3e3e3e" stroke-width="1.25"/>
<text x="400" y="549.47" font-size="11.1" text-anchor="end" fill="#1c1c1c" stroke="#1c1c1c" stroke-width="0.34" font-weight="bold" font-family='"Liberation Sans", Arial, sans-serif' >15600</text>
<line x1="405.7" y1="511.7" x2="410.3" y2="511.7" stroke="#3e3e3e" stroke-width="1.25"/>
<text x="400" y="515.17" font-size="11.1" text-anchor="end" fill="#1c1c1c" stroke="#1c1c1c" stroke-width="0.34" font-weight="bold" font-family='"Liberation Sans", Arial, sans-serif' >23400</text>
<line x1="405.7" y1="597.62" x2="408.7" y2="597.62" stroke="#3e3e3e" stroke-width="1.25"/>
<line x1="405.7" y1="563.25" x2="408.7" y2="563.25" stroke="#3e3e3e" stroke-width="1.25"/>
<line x1="405.7" y1="528.88" x2="408.7" y2="528.88" stroke="#3e3e3e" stroke-width="1.25"/>
<line x1="405.7" y1="494.52" x2="408.7" y2="494.52" stroke="#3e3e3e" stroke-width="1.25"/>
<polyline points="406.11,579.17 408.15,581.21 410.2,583.26 413.26,585.3 416.33,586.32 418.37,585.91 420.42,587.34 423.48,587.96 426.55,587.75 429.61,587.34 432.68,586.73 435.74,586.32 438.81,585.91 440.85,584.28 441.88,574.06 442.69,564.86 443.51,578.15 444.12,582.23 444.74,567.93 445.35,566.91 446.17,580.19 447.19,583.87 449.03,582.23 451.07,581.21 452.5,578.15 453.32,563.84 453.93,547.49 454.55,548.51 455.16,567.93 455.98,579.17 457.82,580.19 459.45,578.15 460.68,572.01 461.5,566.29 462.31,566.91 463.13,574.06 464.15,578.55 466.4,578.15 469.47,577.12 472.53,575.69 474.99,574.06 476.62,575.08 478.26,573.04 480.3,573.65 481.93,572.01 483.57,571.61 484.8,566.91 485.82,561.39 486.84,560.77 487.86,566.91 488.88,569.97 490.93,567.93 492.97,566.91 494.61,564.86 496.04,566.29 497.47,564.86 499.1,563.84 500.74,559.75 502.17,554.64 503.19,552.6 504.42,555.66 505.64,558.73 507.28,556.69 508.91,555.26 510.34,556.69 511.77,553.62 513,551.58 514.43,554.03 515.86,551.17 517.5,549.53 519.13,547.49 520.36,550.55 521.58,546.47 523.22,543.4 524.65,541.36 526.08,545.45 527.72,543.4 529.35,541.36 530.58,535.23 531.39,522.96 532.21,514.79 533.03,522.96 533.85,539.31 534.87,541.36 536,536.25 537.02,532.77 538.04,537.27 539.68,541.36 541.72,544.42 543.77,547.08 545.4,546.47 546.63,541.77 547.85,540.95 548.88,543.4 549.9,547.49 551.53,549.12 553.37,547.49 554.8,545.85 555.82,545.04 556.85,548.51 558.07,550.55 559.71,549.53 560.93,545.45 561.96,531.14 562.77,508.66 563.59,495.37 564.41,508.66 565.23,531.14 566.04,549.53 567.07,554.03 568.7,555.66 570.74,556.69 572.38,555.66 574.01,558.12 575.85,558.73 577.9,561.8 579.94,564.25 581.99,564.86 583.42,563.43 584.64,562.82 586.07,565.47 588.12,566.91 590.77,567.52 593.23,566.91 595.27,566.29 596.91,568.95 598.95,571.61 601.4,572.42 603.85,573.65 605.9,574.47 607.53,573.04 609.17,570.99 610.39,573.04 611.62,575.69 613.66,575.08 615.3,574.06 616.53,563.84 617.34,554.64 618.16,553.62 618.98,563.84 619.8,570.99 621.02,571.61 621.84,567.93 622.66,545.45 623.47,523.99 624.09,523.37 624.91,545.45 625.72,567.93 626.74,570.99 627.97,575.08 629.61,578.15 631.65,579.17 634.1,580.19 636.55,579.78 638.19,576.1 639.21,569.97 640.03,567.93 640.85,574.06 641.87,581.21 643.3,583.26 646.36,582.64 648.82,582.23 650.86,583.87 653.52,583.26 656.18,584.28 658.63,583.87 660.67,582.23 661.9,580.6 663.12,583.87 665.17,584.28 667.21,583.26 668.85,581.82 670.07,581.21 671.3,583.26 672.53,582.64" fill="none" stroke="#931f93" stroke-width="1.45" stroke-linejoin="round" stroke-linecap="round"/>
<rect x="569.6" y="478.8" width="103.3" height="18" fill="#fff" stroke="#b5b5b5" stroke-width="0.8"/>
<line x1="571.3" y1="489.3" x2="595.3" y2="489.3" stroke="#931f93" stroke-width="1.8"/>
<text x="599.6" y="492.7" font-size="11.8" text-anchor="start" fill="#1c1c1c" stroke="#1c1c1c" stroke-width="0.4" font-weight="bold" font-family='"Liberation Sans", Arial, sans-serif' textLength="70.2" lengthAdjust="spacingAndGlyphs" >[rGO-M3-Por]</text>
<text x="440" y="561.5" font-size="9.6" text-anchor="middle" fill="#1c1c1c" stroke="#1c1c1c" stroke-width="0.34" font-weight="bold" font-family='"Liberation Sans", Arial, sans-serif' textLength="22.6" lengthAdjust="spacingAndGlyphs" >(002)</text>
<text x="454.4" y="546" font-size="9.6" text-anchor="middle" fill="#1c1c1c" stroke="#1c1c1c" stroke-width="0.34" font-weight="bold" font-family='"Liberation Sans", Arial, sans-serif' textLength="22.6" lengthAdjust="spacingAndGlyphs" >(114)</text>
<text x="533" y="512.9" font-size="9.6" text-anchor="middle" fill="#1c1c1c" stroke="#1c1c1c" stroke-width="0.34" font-weight="bold" font-family='"Liberation Sans", Arial, sans-serif' textLength="22.6" lengthAdjust="spacingAndGlyphs" >(412)</text>
<text x="557.9" y="493.3" font-size="9.6" text-anchor="middle" fill="#1c1c1c" stroke="#1c1c1c" stroke-width="0.34" font-weight="bold" font-family='"Liberation Sans", Arial, sans-serif' textLength="22.6" lengthAdjust="spacingAndGlyphs" >(100)</text>
<text x="625.9" y="519.1" font-size="9.6" text-anchor="middle" fill="#1c1c1c" stroke="#1c1c1c" stroke-width="0.34" font-weight="bold" font-family='"Liberation Sans", Arial, sans-serif' textLength="22.6" lengthAdjust="spacingAndGlyphs" >(004)</text>
<text x="610.2" y="550.7" font-size="9.6" text-anchor="middle" fill="#1c1c1c" stroke="#1c1c1c" stroke-width="0.34" font-weight="bold" font-family='"Liberation Sans", Arial, sans-serif' textLength="22.6" lengthAdjust="spacingAndGlyphs" >(102)</text>
<text x="363.4" y="546.9" font-size="12.35" text-anchor="middle" fill="#1c1c1c" stroke="#1c1c1c" stroke-width="0.34" font-weight="bold" font-family='"Liberation Sans", Arial, sans-serif' textLength="91.4" lengthAdjust="spacingAndGlyphs" transform="rotate(-90 363.4 546.9)" >Intensity (a.u.)</text>
<line x1="422.4" y1="751" x2="422.4" y2="748.5" stroke="#3e3e3e" stroke-width="1.25"/>
<line x1="439.1" y1="751" x2="439.1" y2="746.5" stroke="#3e3e3e" stroke-width="1.25"/>
<line x1="455.8" y1="751" x2="455.8" y2="748.5" stroke="#3e3e3e" stroke-width="1.25"/>
<line x1="472.5" y1="751" x2="472.5" y2="746.5" stroke="#3e3e3e" stroke-width="1.25"/>
<line x1="489.2" y1="751" x2="489.2" y2="748.5" stroke="#3e3e3e" stroke-width="1.25"/>
<line x1="505.9" y1="751" x2="505.9" y2="746.5" stroke="#3e3e3e" stroke-width="1.25"/>
<line x1="522.6" y1="751" x2="522.6" y2="748.5" stroke="#3e3e3e" stroke-width="1.25"/>
<line x1="539.3" y1="751" x2="539.3" y2="746.5" stroke="#3e3e3e" stroke-width="1.25"/>
<line x1="556" y1="751" x2="556" y2="748.5" stroke="#3e3e3e" stroke-width="1.25"/>
<line x1="572.7" y1="751" x2="572.7" y2="746.5" stroke="#3e3e3e" stroke-width="1.25"/>
<line x1="589.4" y1="751" x2="589.4" y2="748.5" stroke="#3e3e3e" stroke-width="1.25"/>
<line x1="606.1" y1="751" x2="606.1" y2="746.5" stroke="#3e3e3e" stroke-width="1.25"/>
<line x1="622.8" y1="751" x2="622.8" y2="748.5" stroke="#3e3e3e" stroke-width="1.25"/>
<line x1="639.5" y1="751" x2="639.5" y2="746.5" stroke="#3e3e3e" stroke-width="1.25"/>
<line x1="656.2" y1="751" x2="656.2" y2="748.5" stroke="#3e3e3e" stroke-width="1.25"/>
<line x1="405.7" y1="731.9" x2="410.3" y2="731.9" stroke="#3e3e3e" stroke-width="1.25"/>
<text x="400" y="735.37" font-size="11.1" text-anchor="end" fill="#1c1c1c" stroke="#1c1c1c" stroke-width="0.34" font-weight="bold" font-family='"Liberation Sans", Arial, sans-serif' >440</text>
<line x1="405.7" y1="697.6" x2="410.3" y2="697.6" stroke="#3e3e3e" stroke-width="1.25"/>
<text x="400" y="701.07" font-size="11.1" text-anchor="end" fill="#1c1c1c" stroke="#1c1c1c" stroke-width="0.34" font-weight="bold" font-family='"Liberation Sans", Arial, sans-serif' >880</text>
<line x1="405.7" y1="663.5" x2="410.3" y2="663.5" stroke="#3e3e3e" stroke-width="1.25"/>
<text x="400" y="666.97" font-size="11.1" text-anchor="end" fill="#1c1c1c" stroke="#1c1c1c" stroke-width="0.34" font-weight="bold" font-family='"Liberation Sans", Arial, sans-serif' >1320</text>
<line x1="405.7" y1="629.3" x2="410.3" y2="629.3" stroke="#3e3e3e" stroke-width="1.25"/>
<text x="400" y="632.77" font-size="11.1" text-anchor="end" fill="#1c1c1c" stroke="#1c1c1c" stroke-width="0.34" font-weight="bold" font-family='"Liberation Sans", Arial, sans-serif' >1760</text>
<line x1="405.7" y1="749" x2="408.7" y2="749" stroke="#3e3e3e" stroke-width="1.25"/>
<line x1="405.7" y1="714.8" x2="408.7" y2="714.8" stroke="#3e3e3e" stroke-width="1.25"/>
<line x1="405.7" y1="680.6" x2="408.7" y2="680.6" stroke="#3e3e3e" stroke-width="1.25"/>
<line x1="405.7" y1="646.4" x2="408.7" y2="646.4" stroke="#3e3e3e" stroke-width="1.25"/>
<polyline points="406.11,698.2 407.54,701.88 409.18,704.95 410.81,710.06 412.45,713.74 414.28,714.55 416.33,713.74 418.37,714.55 420.01,714.15 420.82,703.93 421.44,687.58 422.05,703.93 422.66,714.15 423.89,711.08 425.12,714.15 426.55,716.8 428.59,715.17 430.23,712.1 431.66,709.04 433.29,711.08 434.93,711.69 436.56,710.06 437.79,703.93 438.61,701.47 439.42,706.99 440.45,709.04 441.47,701.88 442.28,698.2 443.31,703.93 444.53,706.99 446.37,705.97 448.01,703.52 449.64,702.29 451.28,703.52 452.91,701.88 453.93,691.66 454.55,668.16 455.16,691.66 455.77,702.91 457,696.77 458.23,695.75 459.45,691.26 460.68,688.6 461.91,690.64 463.34,691.26 464.77,689.62 465.99,689.21 467.42,691.66 469.06,692.69 470.9,691.26 472.12,685.53 473.15,679.4 473.96,695.75 474.58,665.09 475.19,628.31 475.8,665.09 476.42,695.75 477.03,679.4 477.64,677.36 478.26,695.75 479.28,693.71 480.71,695.75 482.34,696.77 483.77,698.82 485.2,699.84 486.02,694.73 486.84,692.69 487.66,700.86 488.88,702.91 490.52,704.95 492.15,706.99 493.38,705.97 494.2,698.82 495.01,696.77 495.83,705.97 497.06,710.06 498.69,708.01 500.12,706.99 501.55,709.04 502.78,713.12 504.42,711.69 505.64,712.51 506.66,705.97 507.48,703.52 508.3,710.06 509.32,712.1 510.55,708.01 511.57,711.69 513,715.17 514.64,713.74 516.47,714.55 518.52,716.19 520.56,717.21 522.61,719.26 524.65,717.82 526.69,718.64 528.74,717.82 530.78,718.23 532.01,712.1 532.82,695.75 533.64,682.47 534.46,695.75 535.28,712.1 536,715.17 537.64,717.21 539.07,720.28 541.11,722.32 543.15,723.34 544.58,721.3 546.22,723.34 548.26,722.32 550.31,724.36 552.76,723.75 554.8,722.93 556.44,721.3 558.07,722.32 559.5,725.39 561.55,724.36 563.59,726.41 565.64,727.43 568.7,727.02 571.77,728.04 574.83,727.43 577.9,728.04 579.94,728.86 582.6,728.45 585.05,730.09 587.09,729.47 588.73,727.02 590.36,728.45 593.23,729.47 596.29,728.86 599.36,730.09 601.81,729.07 604.47,728.04 607.53,728.86 610.6,729.47 613.26,728.45 615.71,729.47 618.77,730.5 621.84,729.47 624.91,728.86 626.95,727.43 628.38,726.82 629.61,730.09 632.06,730.5 635.12,729.07 638.19,728.04 640.64,729.47 643.3,730.91 646.36,730.5 649.43,730.09 652.09,728.86 654.54,730.09 657.61,729.47 660.67,728.86 663.74,730.09 666.8,729.47 669.26,728.45 670.89,730.09 672.53,730.09" fill="none" stroke="#8428ff" stroke-width="1.45" stroke-linejoin="round" stroke-linecap="round"/>
<rect x="594" y="615.1" width="78.9" height="16.9" fill="#fff" stroke="#b5b5b5" stroke-width="0.8"/>
<line x1="595.5" y1="624.4" x2="620.6" y2="624.4" stroke="#8428ff" stroke-width="1.8"/>
<text x="624.9" y="627.8" font-size="11.8" text-anchor="start" fill="#1c1c1c" stroke="#1c1c1c" stroke-width="0.4" font-weight="bold" font-family='"Liberation Sans", Arial, sans-serif' textLength="44.9" lengthAdjust="spacingAndGlyphs" >[M3-Por]</text>
<text x="422.7" y="683.2" font-size="9.6" text-anchor="middle" fill="#1c1c1c" stroke="#1c1c1c" stroke-width="0.34" font-weight="bold" font-family='"Liberation Sans", Arial, sans-serif' textLength="22.6" lengthAdjust="spacingAndGlyphs" >(310)</text>
<text x="455.4" y="666.3" font-size="9.6" text-anchor="middle" fill="#1c1c1c" stroke="#1c1c1c" stroke-width="0.34" font-weight="bold" font-family='"Liberation Sans", Arial, sans-serif' textLength="22.6" lengthAdjust="spacingAndGlyphs" >(220)</text>
<text x="476.7" y="625.2" font-size="9.6" text-anchor="middle" fill="#1c1c1c" stroke="#1c1c1c" stroke-width="0.34" font-weight="bold" font-family='"Liberation Sans", Arial, sans-serif' textLength="22.6" lengthAdjust="spacingAndGlyphs" >(221)</text>
<text x="536.5" y="677.6" font-size="9.6" text-anchor="middle" fill="#1c1c1c" stroke="#1c1c1c" stroke-width="0.34" font-weight="bold" font-family='"Liberation Sans", Arial, sans-serif' textLength="22.6" lengthAdjust="spacingAndGlyphs" >(222)</text>
<text x="363.4" y="682.4" font-size="12.16" text-anchor="middle" fill="#1c1c1c" stroke="#1c1c1c" stroke-width="0.34" font-weight="bold" font-family='"Liberation Sans", Arial, sans-serif' textLength="90" lengthAdjust="spacingAndGlyphs" transform="rotate(-90 363.4 682.4)" >Intensity (a.u.)</text>
<line x1="422.4" y1="886.7" x2="422.4" y2="884.2" stroke="#3e3e3e" stroke-width="1.25"/>
<line x1="439.1" y1="886.7" x2="439.1" y2="882.2" stroke="#3e3e3e" stroke-width="1.25"/>
<line x1="455.8" y1="886.7" x2="455.8" y2="884.2" stroke="#3e3e3e" stroke-width="1.25"/>
<line x1="472.5" y1="886.7" x2="472.5" y2="882.2" stroke="#3e3e3e" stroke-width="1.25"/>
<line x1="489.2" y1="886.7" x2="489.2" y2="884.2" stroke="#3e3e3e" stroke-width="1.25"/>
<line x1="505.9" y1="886.7" x2="505.9" y2="882.2" stroke="#3e3e3e" stroke-width="1.25"/>
<line x1="522.6" y1="886.7" x2="522.6" y2="884.2" stroke="#3e3e3e" stroke-width="1.25"/>
<line x1="539.3" y1="886.7" x2="539.3" y2="882.2" stroke="#3e3e3e" stroke-width="1.25"/>
<line x1="556" y1="886.7" x2="556" y2="884.2" stroke="#3e3e3e" stroke-width="1.25"/>
<line x1="572.7" y1="886.7" x2="572.7" y2="882.2" stroke="#3e3e3e" stroke-width="1.25"/>
<line x1="589.4" y1="886.7" x2="589.4" y2="884.2" stroke="#3e3e3e" stroke-width="1.25"/>
<line x1="606.1" y1="886.7" x2="606.1" y2="882.2" stroke="#3e3e3e" stroke-width="1.25"/>
<line x1="622.8" y1="886.7" x2="622.8" y2="884.2" stroke="#3e3e3e" stroke-width="1.25"/>
<line x1="639.5" y1="886.7" x2="639.5" y2="882.2" stroke="#3e3e3e" stroke-width="1.25"/>
<line x1="656.2" y1="886.7" x2="656.2" y2="884.2" stroke="#3e3e3e" stroke-width="1.25"/>
<line x1="405.7" y1="871" x2="410.3" y2="871" stroke="#3e3e3e" stroke-width="1.25"/>
<text x="400" y="874.47" font-size="11.1" text-anchor="end" fill="#1c1c1c" stroke="#1c1c1c" stroke-width="0.34" font-weight="bold" font-family='"Liberation Sans", Arial, sans-serif' >0</text>
<line x1="405.7" y1="836.6" x2="410.3" y2="836.6" stroke="#3e3e3e" stroke-width="1.25"/>
<text x="400" y="840.07" font-size="11.1" text-anchor="end" fill="#1c1c1c" stroke="#1c1c1c" stroke-width="0.34" font-weight="bold" font-family='"Liberation Sans", Arial, sans-serif' >11000</text>
<line x1="405.7" y1="802.2" x2="410.3" y2="802.2" stroke="#3e3e3e" stroke-width="1.25"/>
<text x="400" y="805.67" font-size="11.1" text-anchor="end" fill="#1c1c1c" stroke="#1c1c1c" stroke-width="0.34" font-weight="bold" font-family='"Liberation Sans", Arial, sans-serif' >22000</text>
<line x1="405.7" y1="767.8" x2="410.3" y2="767.8" stroke="#3e3e3e" stroke-width="1.25"/>
<text x="400" y="771.27" font-size="11.1" text-anchor="end" fill="#1c1c1c" stroke="#1c1c1c" stroke-width="0.34" font-weight="bold" font-family='"Liberation Sans", Arial, sans-serif' >33000</text>
<line x1="405.7" y1="853.8" x2="408.7" y2="853.8" stroke="#3e3e3e" stroke-width="1.25"/>
<line x1="405.7" y1="819.4" x2="408.7" y2="819.4" stroke="#3e3e3e" stroke-width="1.25"/>
<line x1="405.7" y1="785" x2="408.7" y2="785" stroke="#3e3e3e" stroke-width="1.25"/>
<polyline points="405.2,814.68 406.83,817.81 408.47,818.85 409.9,813.63 411.33,804.25 412.56,802.79 413.58,809.46 414.6,814.05 416.04,813.22 417.47,807.38 418.7,788.6 419.72,766.69 420.54,767.74 421.56,792.77 422.38,807.38 423.6,809.88 426.26,809.46 429.33,810.5 432.4,811.13 434.44,813.22 436.49,813.22 439.56,816.14 442.63,817.39 444.06,816.14 445.69,818.85 447.33,820.94 448.76,816.76 449.78,799.03 450.81,771.91 451.42,757.2 452.24,771.91 453.06,805.29 453.87,821.98 454.9,827.19 456.94,828.24 460.01,830.32 463.08,832.41 465.12,835.54 467.17,837 470.24,836.58 472.69,836.17 474.74,838.67 477.4,840.13 480.46,839.71 482.51,837.63 484.15,839.71 486.6,842.42 489.67,843.88 491.71,844.93 493.76,842.84 495.8,839.71 497.24,836.58 498.46,839.71 499.49,843.88 500.51,841.8 501.33,843.26 502.35,840.76 503.58,834.5 504.6,817.81 505.42,811.97 506.24,819.89 507.05,834.5 508.08,837.63 509.1,830.32 510.12,799.03 510.94,773.58 511.76,799.03 512.78,830.32 514.21,838.67 516.26,843.88 519.33,847.01 522.39,847.43 524.44,844.93 525.87,838.67 527.1,826.15 527.92,818.85 528.73,826.15 529.55,840.76 530.57,848.06 532.62,849.52 534.67,849.52 535.8,848.06 537.43,847.43 538.87,849.52 540.3,850.14 541.93,849.1 542.96,850.77 545,850.14 547.05,848.68 548.48,846.6 549.71,844.93 550.73,848.06 552.16,849.1 554.21,847.01 555.84,844.51 557.27,843.88 558.71,845.35 559.93,844.51 560.95,839.71 561.98,837 563,839.71 564.02,847.01 565.45,849.52 568.52,850.56 571.59,850.56 574.66,850.14 576.7,848.68 578.34,850.14 580.79,852.23 583.86,853.27 586.93,852.86 589.38,853.69 593.07,854.52 597.16,854.32 599.61,854.94 602.27,854.32 604.32,852.86 606.36,850.77 607.79,849.52 609.02,852.23 610.45,855.36 613.52,856.82 617.61,856.4 621.7,855.78 624.16,854.94 626.81,856.4 629.88,857.03 633.97,856.4 637.04,855.78 639.09,854.94 641.13,855.78 644.2,856.4 647.27,857.45 650.34,857.86 652.79,856.4 654.43,852.23 655.86,848.06 656.88,847.01 657.9,851.19 658.93,856.4 660.56,858.49 663.63,858.91 666.7,858.49 669.77,857.45 671.2,855.36 672.22,849.1 672.83,843.88" fill="none" stroke="#1a1a1a" stroke-width="1.1" stroke-linejoin="round" stroke-linecap="round"/>
<rect x="611" y="751" width="61.9" height="18.2" fill="#fff" stroke="#b5b5b5" stroke-width="0.8"/>
<line x1="612.5" y1="761" x2="637" y2="761" stroke="#505050" stroke-width="1.8"/>
<text x="641.3" y="764.4" font-size="11.8" text-anchor="start" fill="#1c1c1c" stroke="#1c1c1c" stroke-width="0.4" font-weight="bold" font-family='"Liberation Sans", Arial, sans-serif' textLength="29" lengthAdjust="spacingAndGlyphs" >[rGO]</text>
<text x="422.2" y="762.7" font-size="9.6" text-anchor="middle" fill="#1c1c1c" stroke="#1c1c1c" stroke-width="0.34" font-weight="bold" font-family='"Liberation Sans", Arial, sans-serif' textLength="22.6" lengthAdjust="spacingAndGlyphs" >(002)</text>
<text x="453.8" y="759" font-size="9.6" text-anchor="middle" fill="#1c1c1c" stroke="#1c1c1c" stroke-width="0.34" font-weight="bold" font-family='"Liberation Sans", Arial, sans-serif' textLength="22.6" lengthAdjust="spacingAndGlyphs" >(032)</text>
<text x="497.8" y="810.5" font-size="9.6" text-anchor="middle" fill="#1c1c1c" stroke="#1c1c1c" stroke-width="0.34" font-weight="bold" font-family='"Liberation Sans", Arial, sans-serif' textLength="22.6" lengthAdjust="spacingAndGlyphs" >(017)</text>
<text x="513.4" y="772.1" font-size="9.6" text-anchor="middle" fill="#1c1c1c" stroke="#1c1c1c" stroke-width="0.34" font-weight="bold" font-family='"Liberation Sans", Arial, sans-serif' textLength="22.6" lengthAdjust="spacingAndGlyphs" >(320)</text>
<text x="531" y="817.4" font-size="9.6" text-anchor="middle" fill="#1c1c1c" stroke="#1c1c1c" stroke-width="0.34" font-weight="bold" font-family='"Liberation Sans", Arial, sans-serif' textLength="22.6" lengthAdjust="spacingAndGlyphs" >(330)</text>
<text x="363.4" y="817.9" font-size="12.41" text-anchor="middle" fill="#1c1c1c" stroke="#1c1c1c" stroke-width="0.34" font-weight="bold" font-family='"Liberation Sans", Arial, sans-serif' textLength="91.8" lengthAdjust="spacingAndGlyphs" transform="rotate(-90 363.4 817.9)" >Intensity (a.u.)</text>
<rect x="405.7" y="478.8" width="267.2" height="407.9" fill="none" stroke="#646464" stroke-width="1.8"/>
<line x1="405.7" y1="615.1" x2="672.9" y2="615.1" stroke="#646464" stroke-width="1.7"/>
<line x1="405.7" y1="751" x2="672.9" y2="751" stroke="#646464" stroke-width="1.7"/>
<text x="405.7" y="900.8" font-size="10.2" text-anchor="middle" fill="#1c1c1c" stroke="#1c1c1c" stroke-width="0.34" font-weight="bold" font-family='"Liberation Sans", Arial, sans-serif' >20</text>
<text x="439.1" y="900.8" font-size="10.2" text-anchor="middle" fill="#1c1c1c" stroke="#1c1c1c" stroke-width="0.34" font-weight="bold" font-family='"Liberation Sans", Arial, sans-serif' >25</text>
<text x="472.5" y="900.8" font-size="10.2" text-anchor="middle" fill="#1c1c1c" stroke="#1c1c1c" stroke-width="0.34" font-weight="bold" font-family='"Liberation Sans", Arial, sans-serif' >30</text>
<text x="505.9" y="900.8" font-size="10.2" text-anchor="middle" fill="#1c1c1c" stroke="#1c1c1c" stroke-width="0.34" font-weight="bold" font-family='"Liberation Sans", Arial, sans-serif' >35</text>
<text x="539.3" y="900.8" font-size="10.2" text-anchor="middle" fill="#1c1c1c" stroke="#1c1c1c" stroke-width="0.34" font-weight="bold" font-family='"Liberation Sans", Arial, sans-serif' >40</text>
<text x="572.7" y="900.8" font-size="10.2" text-anchor="middle" fill="#1c1c1c" stroke="#1c1c1c" stroke-width="0.34" font-weight="bold" font-family='"Liberation Sans", Arial, sans-serif' >45</text>
<text x="606.1" y="900.8" font-size="10.2" text-anchor="middle" fill="#1c1c1c" stroke="#1c1c1c" stroke-width="0.34" font-weight="bold" font-family='"Liberation Sans", Arial, sans-serif' >50</text>
<text x="639.5" y="900.8" font-size="10.2" text-anchor="middle" fill="#1c1c1c" stroke="#1c1c1c" stroke-width="0.34" font-weight="bold" font-family='"Liberation Sans", Arial, sans-serif' >55</text>
<text x="672.9" y="900.8" font-size="10.2" text-anchor="middle" fill="#1c1c1c" stroke="#1c1c1c" stroke-width="0.34" font-weight="bold" font-family='"Liberation Sans", Arial, sans-serif' >60</text>
<text x="504.6" y="922.8" font-size="13" text-anchor="start" fill="#1c1c1c" stroke="#1c1c1c" stroke-width="0.34" font-weight="bold" font-family='"Liberation Sans", Arial, sans-serif' textLength="69.3" lengthAdjust="spacingAndGlyphs" ><tspan font-family='"Liberation Serif", "DejaVu Serif", serif' font-size="14">2θ</tspan> (degree)</text>
<text x="353.3" y="901.4" font-size="18" text-anchor="start" fill="#111" stroke="#111" stroke-width="0.34" font-weight="bold" font-family='"Liberation Serif", "DejaVu Serif", serif' textLength="27.4" lengthAdjust="spacingAndGlyphs" >(d)</text>
</g>
</svg>
</body></html>
